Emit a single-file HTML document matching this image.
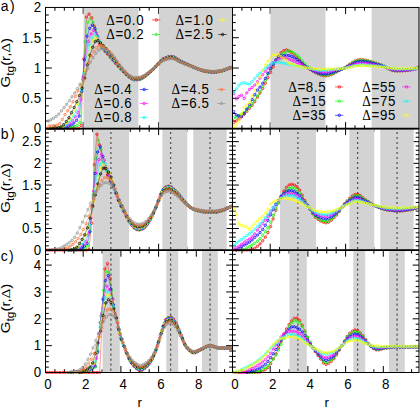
<!DOCTYPE html>
<html><head><meta charset="utf-8"><style>html,body{margin:0;padding:0;background:#fff;width:420px;height:407px;overflow:hidden}svg{display:block}</style></head>
<body><svg width="420" height="407" viewBox="0 0 420 407">
<defs>
<marker id="m000000" markerUnits="userSpaceOnUse" markerWidth="6" markerHeight="6" refX="3" refY="3" overflow="visible"><circle cx="3" cy="3" r="1.2" fill="none" stroke="#000000" stroke-width="0.75"/></marker>
<marker id="m0000ff" markerUnits="userSpaceOnUse" markerWidth="6" markerHeight="6" refX="3" refY="3" overflow="visible"><circle cx="3" cy="3" r="1.2" fill="none" stroke="#0000ff" stroke-width="0.75"/></marker>
<marker id="m00ff00" markerUnits="userSpaceOnUse" markerWidth="6" markerHeight="6" refX="3" refY="3" overflow="visible"><circle cx="3" cy="3" r="1.2" fill="none" stroke="#00ff00" stroke-width="0.75"/></marker>
<marker id="m00ffff" markerUnits="userSpaceOnUse" markerWidth="6" markerHeight="6" refX="3" refY="3" overflow="visible"><circle cx="3" cy="3" r="1.2" fill="none" stroke="#00ffff" stroke-width="0.75"/></marker>
<marker id="m909090" markerUnits="userSpaceOnUse" markerWidth="6" markerHeight="6" refX="3" refY="3" overflow="visible"><circle cx="3" cy="3" r="1.2" fill="none" stroke="#909090" stroke-width="0.75"/></marker>
<marker id="mff0000" markerUnits="userSpaceOnUse" markerWidth="6" markerHeight="6" refX="3" refY="3" overflow="visible"><circle cx="3" cy="3" r="1.2" fill="none" stroke="#ff0000" stroke-width="0.75"/></marker>
<marker id="mff00ff" markerUnits="userSpaceOnUse" markerWidth="6" markerHeight="6" refX="3" refY="3" overflow="visible"><circle cx="3" cy="3" r="1.2" fill="none" stroke="#ff00ff" stroke-width="0.75"/></marker>
<marker id="mff6e32" markerUnits="userSpaceOnUse" markerWidth="6" markerHeight="6" refX="3" refY="3" overflow="visible"><circle cx="3" cy="3" r="1.2" fill="none" stroke="#ff6e32" stroke-width="0.75"/></marker>
<marker id="mffff00" markerUnits="userSpaceOnUse" markerWidth="6" markerHeight="6" refX="3" refY="3" overflow="visible"><circle cx="3" cy="3" r="1.2" fill="none" stroke="#ffff00" stroke-width="0.75"/></marker>
<clipPath id="clipaL"><rect x="45.5" y="6.45" width="186.99" height="123.65"/></clipPath>
<clipPath id="clipaR"><rect x="232.5" y="6.45" width="186.50" height="123.65"/></clipPath>
<clipPath id="clipbL"><rect x="45.5" y="127.6" width="186.99" height="124.10"/></clipPath>
<clipPath id="clipbR"><rect x="232.5" y="127.6" width="186.50" height="124.10"/></clipPath>
<clipPath id="clipcL"><rect x="45.5" y="249.2" width="186.99" height="124.80"/></clipPath>
<clipPath id="clipcR"><rect x="232.5" y="249.2" width="186.50" height="124.80"/></clipPath>
</defs>
<rect width="420" height="407" fill="#fff"/>
<path d="M54.92,128.6v-3.3M54.92,7.45v3.3M64.35,128.6v-3.3M64.35,7.45v3.3M73.78,128.6v-3.3M73.78,7.45v3.3M83.20,128.6v-6.5M83.20,7.45v6.5M92.62,128.6v-3.3M92.62,7.45v3.3M102.05,128.6v-3.3M102.05,7.45v3.3M111.48,128.6v-3.3M111.48,7.45v3.3M120.90,128.6v-6.5M120.90,7.45v6.5M130.32,128.6v-3.3M130.32,7.45v3.3M139.75,128.6v-3.3M139.75,7.45v3.3M149.18,128.6v-3.3M149.18,7.45v3.3M158.60,128.6v-6.5M158.60,7.45v6.5M168.03,128.6v-3.3M168.03,7.45v3.3M177.45,128.6v-3.3M177.45,7.45v3.3M186.88,128.6v-3.3M186.88,7.45v3.3M196.30,128.6v-6.5M196.30,7.45v6.5M205.73,128.6v-3.3M205.73,7.45v3.3M215.15,128.6v-3.3M215.15,7.45v3.3M224.58,128.6v-3.3M224.58,7.45v3.3M45.5,121.03h3.3M232.49200000000002,121.03h-3.3M45.5,113.46h3.3M232.49200000000002,113.46h-3.3M45.5,105.88h3.3M232.49200000000002,105.88h-3.3M45.5,98.31h6.3M232.49200000000002,98.31h-6.3M45.5,90.74h3.3M232.49200000000002,90.74h-3.3M45.5,83.17h3.3M232.49200000000002,83.17h-3.3M45.5,75.60h3.3M232.49200000000002,75.60h-3.3M45.5,68.03h6.3M232.49200000000002,68.03h-6.3M45.5,60.45h3.3M232.49200000000002,60.45h-3.3M45.5,52.88h3.3M232.49200000000002,52.88h-3.3M45.5,45.31h3.3M232.49200000000002,45.31h-3.3M45.5,37.74h6.3M232.49200000000002,37.74h-6.3M45.5,30.17h3.3M232.49200000000002,30.17h-3.3M45.5,22.59h3.3M232.49200000000002,22.59h-3.3M45.5,15.02h3.3M232.49200000000002,15.02h-3.3M241.93,128.6v-3.3M241.93,7.45v3.3M251.35,128.6v-3.3M251.35,7.45v3.3M260.77,128.6v-3.3M260.77,7.45v3.3M270.20,128.6v-6.5M270.20,7.45v6.5M279.62,128.6v-3.3M279.62,7.45v3.3M289.05,128.6v-3.3M289.05,7.45v3.3M298.48,128.6v-3.3M298.48,7.45v3.3M307.90,128.6v-6.5M307.90,7.45v6.5M317.32,128.6v-3.3M317.32,7.45v3.3M326.75,128.6v-3.3M326.75,7.45v3.3M336.18,128.6v-3.3M336.18,7.45v3.3M345.60,128.6v-6.5M345.60,7.45v6.5M355.02,128.6v-3.3M355.02,7.45v3.3M364.45,128.6v-3.3M364.45,7.45v3.3M373.88,128.6v-3.3M373.88,7.45v3.3M383.30,128.6v-6.5M383.30,7.45v6.5M392.73,128.6v-3.3M392.73,7.45v3.3M402.15,128.6v-3.3M402.15,7.45v3.3M411.58,128.6v-3.3M411.58,7.45v3.3M232.5,121.03h3.3M419.0,121.03h-3.3M232.5,113.46h3.3M419.0,113.46h-3.3M232.5,105.88h3.3M419.0,105.88h-3.3M232.5,98.31h6.3M419.0,98.31h-6.3M232.5,90.74h3.3M419.0,90.74h-3.3M232.5,83.17h3.3M419.0,83.17h-3.3M232.5,75.60h3.3M419.0,75.60h-3.3M232.5,68.03h6.3M419.0,68.03h-6.3M232.5,60.45h3.3M419.0,60.45h-3.3M232.5,52.88h3.3M419.0,52.88h-3.3M232.5,45.31h3.3M419.0,45.31h-3.3M232.5,37.74h6.3M419.0,37.74h-6.3M232.5,30.17h3.3M419.0,30.17h-3.3M232.5,22.59h3.3M419.0,22.59h-3.3M232.5,15.02h3.3M419.0,15.02h-3.3M54.92,250.2v-3.3M54.92,128.6v3.3M64.35,250.2v-3.3M64.35,128.6v3.3M73.78,250.2v-3.3M73.78,128.6v3.3M83.20,250.2v-6.5M83.20,128.6v6.5M92.62,250.2v-3.3M92.62,128.6v3.3M102.05,250.2v-3.3M102.05,128.6v3.3M111.48,250.2v-3.3M111.48,128.6v3.3M120.90,250.2v-6.5M120.90,128.6v6.5M130.32,250.2v-3.3M130.32,128.6v3.3M139.75,250.2v-3.3M139.75,128.6v3.3M149.18,250.2v-3.3M149.18,128.6v3.3M158.60,250.2v-6.5M158.60,128.6v6.5M168.03,250.2v-3.3M168.03,128.6v3.3M177.45,250.2v-3.3M177.45,128.6v3.3M186.88,250.2v-3.3M186.88,128.6v3.3M196.30,250.2v-6.5M196.30,128.6v6.5M205.73,250.2v-3.3M205.73,128.6v3.3M215.15,250.2v-3.3M215.15,128.6v3.3M224.58,250.2v-3.3M224.58,128.6v3.3M45.5,245.86h3.3M232.49200000000002,245.86h-3.3M45.5,241.51h3.3M232.49200000000002,241.51h-3.3M45.5,237.17h3.3M232.49200000000002,237.17h-3.3M45.5,232.83h3.3M232.49200000000002,232.83h-3.3M45.5,228.49h6.3M232.49200000000002,228.49h-6.3M45.5,224.14h3.3M232.49200000000002,224.14h-3.3M45.5,219.80h3.3M232.49200000000002,219.80h-3.3M45.5,215.46h3.3M232.49200000000002,215.46h-3.3M45.5,211.11h3.3M232.49200000000002,211.11h-3.3M45.5,206.77h6.3M232.49200000000002,206.77h-6.3M45.5,202.43h3.3M232.49200000000002,202.43h-3.3M45.5,198.09h3.3M232.49200000000002,198.09h-3.3M45.5,193.74h3.3M232.49200000000002,193.74h-3.3M45.5,189.40h3.3M232.49200000000002,189.40h-3.3M45.5,185.06h6.3M232.49200000000002,185.06h-6.3M45.5,180.71h3.3M232.49200000000002,180.71h-3.3M45.5,176.37h3.3M232.49200000000002,176.37h-3.3M45.5,172.03h3.3M232.49200000000002,172.03h-3.3M45.5,167.69h3.3M232.49200000000002,167.69h-3.3M45.5,163.34h6.3M232.49200000000002,163.34h-6.3M45.5,159.00h3.3M232.49200000000002,159.00h-3.3M45.5,154.66h3.3M232.49200000000002,154.66h-3.3M45.5,150.31h3.3M232.49200000000002,150.31h-3.3M45.5,145.97h3.3M232.49200000000002,145.97h-3.3M45.5,141.63h6.3M232.49200000000002,141.63h-6.3M45.5,137.29h3.3M232.49200000000002,137.29h-3.3M45.5,132.94h3.3M232.49200000000002,132.94h-3.3M241.93,250.2v-3.3M241.93,128.6v3.3M251.35,250.2v-3.3M251.35,128.6v3.3M260.77,250.2v-3.3M260.77,128.6v3.3M270.20,250.2v-6.5M270.20,128.6v6.5M279.62,250.2v-3.3M279.62,128.6v3.3M289.05,250.2v-3.3M289.05,128.6v3.3M298.48,250.2v-3.3M298.48,128.6v3.3M307.90,250.2v-6.5M307.90,128.6v6.5M317.32,250.2v-3.3M317.32,128.6v3.3M326.75,250.2v-3.3M326.75,128.6v3.3M336.18,250.2v-3.3M336.18,128.6v3.3M345.60,250.2v-6.5M345.60,128.6v6.5M355.02,250.2v-3.3M355.02,128.6v3.3M364.45,250.2v-3.3M364.45,128.6v3.3M373.88,250.2v-3.3M373.88,128.6v3.3M383.30,250.2v-6.5M383.30,128.6v6.5M392.73,250.2v-3.3M392.73,128.6v3.3M402.15,250.2v-3.3M402.15,128.6v3.3M411.58,250.2v-3.3M411.58,128.6v3.3M232.5,245.86h3.3M419.0,245.86h-3.3M232.5,241.51h3.3M419.0,241.51h-3.3M232.5,237.17h3.3M419.0,237.17h-3.3M232.5,232.83h3.3M419.0,232.83h-3.3M232.5,228.49h6.3M419.0,228.49h-6.3M232.5,224.14h3.3M419.0,224.14h-3.3M232.5,219.80h3.3M419.0,219.80h-3.3M232.5,215.46h3.3M419.0,215.46h-3.3M232.5,211.11h3.3M419.0,211.11h-3.3M232.5,206.77h6.3M419.0,206.77h-6.3M232.5,202.43h3.3M419.0,202.43h-3.3M232.5,198.09h3.3M419.0,198.09h-3.3M232.5,193.74h3.3M419.0,193.74h-3.3M232.5,189.40h3.3M419.0,189.40h-3.3M232.5,185.06h6.3M419.0,185.06h-6.3M232.5,180.71h3.3M419.0,180.71h-3.3M232.5,176.37h3.3M419.0,176.37h-3.3M232.5,172.03h3.3M419.0,172.03h-3.3M232.5,167.69h3.3M419.0,167.69h-3.3M232.5,163.34h6.3M419.0,163.34h-6.3M232.5,159.00h3.3M419.0,159.00h-3.3M232.5,154.66h3.3M419.0,154.66h-3.3M232.5,150.31h3.3M419.0,150.31h-3.3M232.5,145.97h3.3M419.0,145.97h-3.3M232.5,141.63h6.3M419.0,141.63h-6.3M232.5,137.29h3.3M419.0,137.29h-3.3M232.5,132.94h3.3M419.0,132.94h-3.3M54.92,372.5v-3.3M54.92,250.2v3.3M64.35,372.5v-3.3M64.35,250.2v3.3M73.78,372.5v-3.3M73.78,250.2v3.3M83.20,372.5v-6.5M83.20,250.2v6.5M92.62,372.5v-3.3M92.62,250.2v3.3M102.05,372.5v-3.3M102.05,250.2v3.3M111.48,372.5v-3.3M111.48,250.2v3.3M120.90,372.5v-6.5M120.90,250.2v6.5M130.32,372.5v-3.3M130.32,250.2v3.3M139.75,372.5v-3.3M139.75,250.2v3.3M149.18,372.5v-3.3M149.18,250.2v3.3M158.60,372.5v-6.5M158.60,250.2v6.5M168.03,372.5v-3.3M168.03,250.2v3.3M177.45,372.5v-3.3M177.45,250.2v3.3M186.88,372.5v-3.3M186.88,250.2v3.3M196.30,372.5v-6.5M196.30,250.2v6.5M205.73,372.5v-3.3M205.73,250.2v3.3M215.15,372.5v-3.3M215.15,250.2v3.3M224.58,372.5v-3.3M224.58,250.2v3.3M45.5,367.13h3.3M232.49200000000002,367.13h-3.3M45.5,361.76h3.3M232.49200000000002,361.76h-3.3M45.5,356.39h3.3M232.49200000000002,356.39h-3.3M45.5,351.02h3.3M232.49200000000002,351.02h-3.3M45.5,345.65h6.3M232.49200000000002,345.65h-6.3M45.5,340.28h3.3M232.49200000000002,340.28h-3.3M45.5,334.91h3.3M232.49200000000002,334.91h-3.3M45.5,329.54h3.3M232.49200000000002,329.54h-3.3M45.5,324.17h3.3M232.49200000000002,324.17h-3.3M45.5,318.80h6.3M232.49200000000002,318.80h-6.3M45.5,313.43h3.3M232.49200000000002,313.43h-3.3M45.5,308.06h3.3M232.49200000000002,308.06h-3.3M45.5,302.69h3.3M232.49200000000002,302.69h-3.3M45.5,297.32h3.3M232.49200000000002,297.32h-3.3M45.5,291.95h6.3M232.49200000000002,291.95h-6.3M45.5,286.58h3.3M232.49200000000002,286.58h-3.3M45.5,281.21h3.3M232.49200000000002,281.21h-3.3M45.5,275.84h3.3M232.49200000000002,275.84h-3.3M45.5,270.47h3.3M232.49200000000002,270.47h-3.3M45.5,265.10h6.3M232.49200000000002,265.10h-6.3M45.5,259.73h3.3M232.49200000000002,259.73h-3.3M45.5,254.36h3.3M232.49200000000002,254.36h-3.3M241.93,372.5v-3.3M241.93,250.2v3.3M251.35,372.5v-3.3M251.35,250.2v3.3M260.77,372.5v-3.3M260.77,250.2v3.3M270.20,372.5v-6.5M270.20,250.2v6.5M279.62,372.5v-3.3M279.62,250.2v3.3M289.05,372.5v-3.3M289.05,250.2v3.3M298.48,372.5v-3.3M298.48,250.2v3.3M307.90,372.5v-6.5M307.90,250.2v6.5M317.32,372.5v-3.3M317.32,250.2v3.3M326.75,372.5v-3.3M326.75,250.2v3.3M336.18,372.5v-3.3M336.18,250.2v3.3M345.60,372.5v-6.5M345.60,250.2v6.5M355.02,372.5v-3.3M355.02,250.2v3.3M364.45,372.5v-3.3M364.45,250.2v3.3M373.88,372.5v-3.3M373.88,250.2v3.3M383.30,372.5v-6.5M383.30,250.2v6.5M392.73,372.5v-3.3M392.73,250.2v3.3M402.15,372.5v-3.3M402.15,250.2v3.3M411.58,372.5v-3.3M411.58,250.2v3.3M232.5,367.13h3.3M419.0,367.13h-3.3M232.5,361.76h3.3M419.0,361.76h-3.3M232.5,356.39h3.3M419.0,356.39h-3.3M232.5,351.02h3.3M419.0,351.02h-3.3M232.5,345.65h6.3M419.0,345.65h-6.3M232.5,340.28h3.3M419.0,340.28h-3.3M232.5,334.91h3.3M419.0,334.91h-3.3M232.5,329.54h3.3M419.0,329.54h-3.3M232.5,324.17h3.3M419.0,324.17h-3.3M232.5,318.80h6.3M419.0,318.80h-6.3M232.5,313.43h3.3M419.0,313.43h-3.3M232.5,308.06h3.3M419.0,308.06h-3.3M232.5,302.69h3.3M419.0,302.69h-3.3M232.5,297.32h3.3M419.0,297.32h-3.3M232.5,291.95h6.3M419.0,291.95h-6.3M232.5,286.58h3.3M419.0,286.58h-3.3M232.5,281.21h3.3M419.0,281.21h-3.3M232.5,275.84h3.3M419.0,275.84h-3.3M232.5,270.47h3.3M419.0,270.47h-3.3M232.5,265.10h6.3M419.0,265.10h-6.3M232.5,259.73h3.3M419.0,259.73h-3.3M232.5,254.36h3.3M419.0,254.36h-3.3" stroke="#000" stroke-width="1" fill="none"/>
<rect x="83.58" y="7.45" width="54.85" height="121.15" fill="#d3d3d3"/>
<rect x="158.79" y="7.45" width="73.70" height="121.15" fill="#d3d3d3"/>
<rect x="270.39" y="7.45" width="55.04" height="121.15" fill="#d3d3d3"/>
<rect x="371.61" y="7.45" width="47.88" height="121.15" fill="#d3d3d3"/>
<rect x="93.00" y="128.6" width="36.00" height="121.60" fill="#d3d3d3"/>
<rect x="162.37" y="128.6" width="24.88" height="121.60" fill="#d3d3d3"/>
<rect x="193.28" y="128.6" width="33.36" height="121.60" fill="#d3d3d3"/>
<rect x="280.00" y="128.6" width="36.00" height="121.60" fill="#d3d3d3"/>
<rect x="349.37" y="128.6" width="24.88" height="121.60" fill="#d3d3d3"/>
<rect x="380.28" y="128.6" width="33.36" height="121.60" fill="#d3d3d3"/>
<rect x="102.62" y="250.2" width="17.15" height="122.30" fill="#d3d3d3"/>
<rect x="166.33" y="250.2" width="11.88" height="122.30" fill="#d3d3d3"/>
<rect x="201.96" y="250.2" width="15.83" height="122.30" fill="#d3d3d3"/>
<rect x="289.43" y="250.2" width="17.34" height="122.30" fill="#d3d3d3"/>
<rect x="353.33" y="250.2" width="11.88" height="122.30" fill="#d3d3d3"/>
<rect x="388.96" y="250.2" width="15.83" height="122.30" fill="#d3d3d3"/>
<line x1="110.91" y1="132.0" x2="110.91" y2="249.7" stroke="#3a3a3a" stroke-width="1.05" stroke-dasharray="2.1 2.9"/>
<line x1="170.66" y1="132.0" x2="170.66" y2="249.7" stroke="#3a3a3a" stroke-width="1.05" stroke-dasharray="2.1 2.9"/>
<line x1="210.06" y1="132.0" x2="210.06" y2="249.7" stroke="#3a3a3a" stroke-width="1.05" stroke-dasharray="2.1 2.9"/>
<line x1="297.91" y1="132.0" x2="297.91" y2="249.7" stroke="#3a3a3a" stroke-width="1.05" stroke-dasharray="2.1 2.9"/>
<line x1="357.66" y1="132.0" x2="357.66" y2="249.7" stroke="#3a3a3a" stroke-width="1.05" stroke-dasharray="2.1 2.9"/>
<line x1="397.06" y1="132.0" x2="397.06" y2="249.7" stroke="#3a3a3a" stroke-width="1.05" stroke-dasharray="2.1 2.9"/>
<line x1="110.91" y1="253.6" x2="110.91" y2="372.0" stroke="#3a3a3a" stroke-width="1.05" stroke-dasharray="2.1 2.9"/>
<line x1="170.66" y1="253.6" x2="170.66" y2="372.0" stroke="#3a3a3a" stroke-width="1.05" stroke-dasharray="2.1 2.9"/>
<line x1="210.06" y1="253.6" x2="210.06" y2="372.0" stroke="#3a3a3a" stroke-width="1.05" stroke-dasharray="2.1 2.9"/>
<line x1="297.91" y1="253.6" x2="297.91" y2="372.0" stroke="#3a3a3a" stroke-width="1.05" stroke-dasharray="2.1 2.9"/>
<line x1="357.66" y1="253.6" x2="357.66" y2="372.0" stroke="#3a3a3a" stroke-width="1.05" stroke-dasharray="2.1 2.9"/>
<line x1="397.06" y1="253.6" x2="397.06" y2="372.0" stroke="#3a3a3a" stroke-width="1.05" stroke-dasharray="2.1 2.9"/>
<g clip-path="url(#clipaL)" fill="none" stroke-width="0.4">
<path d="M46.8,128.6 49.5,128.6 52.1,128.6 54.7,128.6 57.4,128.6 60.0,128.6 62.7,128.6 65.3,128.6 67.9,128.6 70.6,128.6 73.2,128.6 75.8,128.6 78.5,128.6 81.1,125.6 83.8,58.9 86.4,17.1 89.0,14.1 91.7,17.7 94.3,26.2 97.0,36.1 99.6,43.9 102.2,48.1 104.9,51.4 107.5,54.2 110.2,57.2 112.8,60.3 115.4,63.3 118.1,66.2 120.7,69.0 123.4,71.6 126.0,74.2 128.6,76.6 131.3,78.5 133.9,79.8 136.5,79.8 139.2,79.6 141.8,78.6 144.5,76.9 147.1,74.8 149.7,72.4 152.4,70.0 155.0,67.3 157.7,64.3 160.3,61.4 162.9,58.9 165.6,57.7 168.2,56.8 170.9,56.4 173.5,56.8 176.1,58.2 178.8,59.9 181.4,61.5 184.0,62.7 186.7,63.9 189.3,65.1 192.0,66.3 194.6,67.5 197.2,68.6 199.9,69.6 202.5,70.6 205.2,71.3 207.8,71.7 210.4,72.1 213.1,72.2 215.7,72.1 218.4,71.7 221.0,71.1 223.6,70.4 226.3,69.3 228.9,68.3 231.5,67.5 234.2,67.0" stroke="#ff0000" marker-start="url(#mff0000)" marker-mid="url(#mff0000)" marker-end="url(#mff0000)"/>
<path d="M64.0,128.4 66.6,128.1 69.3,127.7 71.9,127.2 74.5,126.6 77.2,125.5 79.8,122.5 82.4,87.2 85.1,41.7 87.7,22.3 90.4,18.8 93.0,22.2 95.6,30.3 98.3,39.4 100.9,45.6 103.6,49.2 106.2,52.2 108.8,55.0 111.5,58.2 114.1,61.3 116.8,64.3 119.4,67.3 122.0,70.1 124.7,72.7 127.3,75.3 129.9,77.4 132.6,79.2 135.2,79.6 137.9,79.5 140.5,79.0 143.1,77.6 145.8,75.8 148.4,73.5 151.1,71.2 153.7,68.7 156.3,65.8 159.0,63.0 161.6,60.1 164.3,58.5 166.9,57.4 169.5,56.7 172.2,56.6 174.8,57.6 177.5,59.2 180.1,60.9 182.7,62.2 185.4,63.4 188.0,64.6 190.6,65.8 193.3,67.0 195.9,68.1 198.6,69.1 201.2,70.1 203.8,70.9 206.5,71.4 209.1,71.8 211.8,72.1 214.4,72.1 217.0,71.8 219.7,71.4 222.3,70.8 225.0,69.8 227.6,68.7 230.2,67.9 232.9,67.3" stroke="#00ff00" marker-start="url(#m00ff00)" marker-mid="url(#m00ff00)" marker-end="url(#m00ff00)"/>
<path d="M55.4,128.4 58.0,128.3 60.7,128.2 63.3,128.0 66.0,127.3 68.6,126.3 71.2,125.0 73.9,123.1 76.5,120.4 79.1,116.0 81.8,91.3 84.4,59.9 87.1,36.2 89.7,28.3 92.3,25.1 95.0,28.6 97.6,36.2 100.3,43.5 102.9,47.5 105.5,50.6 108.2,53.5 110.8,56.6 113.5,59.8 116.1,63.0 118.7,66.1 121.4,69.0 124.0,71.8 126.6,74.5 129.3,76.8 131.9,78.6 134.6,79.4 137.2,79.3 139.8,79.0 142.5,77.8 145.1,76.2 147.8,74.0 150.4,71.7 153.0,69.3 155.7,66.6 158.3,63.7 161.0,60.9 163.6,58.9 166.2,57.8 168.9,57.1 171.5,56.8 174.2,57.4 176.8,58.9 179.4,60.6 182.1,62.0 184.7,63.2 187.3,64.4 190.0,65.5 192.6,66.7 195.3,67.8 197.9,68.9 200.5,69.8 203.2,70.7 205.8,71.3 208.5,71.7 211.1,72.0 213.7,72.1 216.4,71.9 219.0,71.4 221.7,70.9 224.3,70.1 226.9,69.0 229.6,68.1 232.2,67.4" stroke="#0000ff" marker-start="url(#m0000ff)" marker-mid="url(#m0000ff)" marker-end="url(#m0000ff)"/>
<path d="M54.1,128.4 56.7,128.2 59.4,128.0 62.0,127.8 64.6,126.8 67.3,125.2 69.9,123.3 72.5,120.5 75.2,116.9 77.8,112.4 80.5,99.4 83.1,76.9 85.7,56.0 88.4,41.5 91.0,34.0 93.7,30.4 96.3,33.0 98.9,39.5 101.6,45.0 104.2,48.4 106.9,51.4 109.5,54.3 112.1,57.6 114.8,60.9 117.4,64.1 120.1,67.2 122.7,70.2 125.3,73.0 128.0,75.6 130.6,77.5 133.2,79.0 135.9,79.2 138.5,79.0 141.2,78.3 143.8,76.9 146.4,75.0 149.1,72.7 151.7,70.5 154.4,68.0 157.0,65.2 159.6,62.5 162.3,59.9 164.9,58.5 167.6,57.6 170.2,57.0 172.8,57.2 175.5,58.3 178.1,59.9 180.7,61.5 183.4,62.7 186.0,63.9 188.7,65.0 191.3,66.1 193.9,67.3 196.6,68.4 199.2,69.3 201.9,70.2 204.5,71.0 207.1,71.4 209.8,71.8 212.4,72.0 215.1,71.9 217.7,71.6 220.3,71.1 223.0,70.5 225.6,69.5 228.3,68.5 230.9,67.7 233.5,67.2" stroke="#ff00ff" marker-start="url(#mff00ff)" marker-mid="url(#mff00ff)" marker-end="url(#mff00ff)"/>
<path d="M52.4,128.4 55.1,128.2 57.7,128.0 60.3,127.7 63.0,127.0 65.6,125.1 68.2,122.8 70.9,119.8 73.5,115.7 76.2,111.2 78.8,104.3 81.4,89.8 84.1,73.7 86.7,56.2 89.4,45.4 92.0,37.9 94.6,34.1 97.3,36.2 99.9,41.6 102.6,45.8 105.2,49.0 107.8,51.9 110.5,55.1 113.1,58.4 115.8,61.7 118.4,65.0 121.0,68.1 123.7,71.1 126.3,73.9 128.9,76.2 131.6,78.0 134.2,79.0 136.9,78.9 139.5,78.7 142.1,77.7 144.8,76.1 147.4,74.0 150.1,71.8 152.7,69.6 155.3,67.0 158.0,64.2 160.6,61.5 163.3,59.4 165.9,58.3 168.5,57.5 171.2,57.2 173.8,57.7 176.4,59.0 179.1,60.7 181.7,62.1 184.4,63.2 187.0,64.3 189.6,65.4 192.3,66.6 194.9,67.7 197.6,68.7 200.2,69.6 202.8,70.5 205.5,71.1 208.1,71.5 210.8,71.8 213.4,71.9 216.0,71.8 218.7,71.4 221.3,70.8 223.9,70.1 226.6,69.1 229.2,68.1 231.9,67.5" stroke="#00ffff" marker-start="url(#m00ffff)" marker-mid="url(#m00ffff)" marker-end="url(#m00ffff)"/>
<path d="M51.1,128.4 53.7,128.3 56.4,128.0 59.0,127.7 61.7,127.1 64.3,125.2 66.9,122.5 69.6,119.2 72.2,114.7 74.8,109.9 77.5,104.2 80.1,95.3 82.8,83.9 85.4,69.9 88.0,55.8 90.7,47.2 93.3,40.2 96.0,37.2 98.6,39.5 101.2,43.7 103.9,46.9 106.5,50.0 109.2,53.1 111.8,56.3 114.4,59.7 117.1,63.1 119.7,66.4 122.3,69.5 125.0,72.4 127.6,75.0 130.3,77.0 132.9,78.5 135.5,78.8 138.2,78.6 140.8,78.1 143.5,76.7 146.1,75.0 148.7,72.8 151.4,70.7 154.0,68.3 156.7,65.7 159.3,63.0 161.9,60.4 164.6,59.0 167.2,58.1 169.8,57.5 172.5,57.5 175.1,58.5 177.8,60.0 180.4,61.6 183.0,62.8 185.7,63.9 188.3,65.0 191.0,66.1 193.6,67.2 196.2,68.2 198.9,69.1 201.5,70.1 204.2,70.8 206.8,71.2 209.4,71.6 212.1,71.8 214.7,71.8 217.4,71.5 220.0,71.1 222.6,70.5 225.3,69.6 227.9,68.6 230.5,67.8 233.2,67.3" stroke="#ffff00" marker-start="url(#mffff00)" marker-mid="url(#mffff00)" marker-end="url(#mffff00)"/>
<path d="M50.4,128.5 53.1,128.3 55.7,128.0 58.4,127.6 61.0,126.9 63.6,124.7 66.3,121.5 68.9,117.8 71.5,112.6 74.2,107.4 76.8,101.7 79.5,95.5 82.1,88.5 84.7,78.2 87.4,64.8 90.0,55.2 92.7,47.2 95.3,41.5 97.9,40.6 100.6,42.9 103.2,45.6 105.9,48.6 108.5,51.8 111.1,55.1 113.8,58.5 116.4,62.0 119.0,65.3 121.7,68.6 124.3,71.6 127.0,74.3 129.6,76.3 132.2,78.0 134.9,78.6 137.5,78.5 140.2,78.1 142.8,76.9 145.4,75.3 148.1,73.3 150.7,71.2 153.4,68.9 156.0,66.4 158.6,63.8 161.3,61.2 163.9,59.5 166.6,58.5 169.2,57.8 171.8,57.6 174.5,58.4 177.1,59.8 179.7,61.4 182.4,62.6 185.0,63.7 187.7,64.8 190.3,65.8 192.9,66.9 195.6,68.0 198.2,68.9 200.9,69.8 203.5,70.6 206.1,71.1 208.8,71.4 211.4,71.7 214.1,71.8 216.7,71.5 219.3,71.1 222.0,70.6 224.6,69.8 227.2,68.8 229.9,68.0 232.5,67.4" stroke="#000000" marker-start="url(#m000000)" marker-mid="url(#m000000)" marker-end="url(#m000000)"/>
<path d="M49.1,126.1 51.8,125.9 54.4,125.5 57.0,125.1 59.7,123.6 62.3,119.4 64.9,114.6 67.6,110.7 70.2,106.8 72.9,101.8 75.5,96.3 78.1,91.1 80.8,85.8 83.4,79.7 86.1,71.2 88.7,62.2 91.3,56.0 94.0,51.3 96.6,47.6 99.3,45.7 101.9,46.1 104.5,47.4 107.2,49.4 109.8,51.8 112.5,54.9 115.1,58.7 117.7,62.8 120.4,66.4 123.0,69.5 125.6,72.4 128.3,75.0 130.9,76.8 133.6,78.0 136.2,78.0 138.8,77.8 141.5,77.1 144.1,75.8 146.8,74.0 149.4,72.0 152.0,70.0 154.7,67.7 157.3,65.2 160.0,62.7 162.6,60.5 165.2,59.4 167.9,58.6 170.5,58.2 173.1,58.4 175.8,59.5 178.4,61.0 181.1,62.3 183.7,63.4 186.3,64.4 189.0,65.4 191.6,66.4 194.3,67.5 196.9,68.4 199.5,69.3 202.2,70.1 204.8,70.7 207.5,71.1 210.1,71.4 212.7,71.6 215.4,71.5 218.0,71.2 220.7,70.7 223.3,70.1 225.9,69.2 228.6,68.3 231.2,67.7 233.8,67.2" stroke="#ff6e32" marker-start="url(#mff6e32)" marker-mid="url(#mff6e32)" marker-end="url(#mff6e32)"/>
<path d="M48.3,120.9 50.9,119.8 53.5,118.2 56.2,116.5 58.8,114.1 61.5,110.8 64.1,107.6 66.7,104.2 69.4,100.6 72.0,96.8 74.7,92.9 77.3,88.7 79.9,84.2 82.6,79.4 85.2,74.3 87.9,68.4 90.5,62.3 93.1,57.6 95.8,53.5 98.4,50.2 101.1,48.7 103.7,49.1 106.3,50.1 109.0,51.7 111.6,53.9 114.2,57.0 116.9,60.9 119.5,64.7 122.2,68.1 124.8,71.2 127.4,73.9 130.1,75.8 132.7,77.2 135.4,77.5 138.0,77.4 140.6,77.0 143.3,75.8 145.9,74.3 148.6,72.4 151.2,70.5 153.8,68.5 156.5,66.1 159.1,63.8 161.7,61.5 164.4,60.2 167.0,59.3 169.7,58.8 172.3,58.7 174.9,59.5 177.6,60.9 180.2,62.3 182.9,63.3 185.5,64.3 188.1,65.3 190.8,66.2 193.4,67.2 196.1,68.1 198.7,69.0 201.3,69.8 204.0,70.4 206.6,70.8 209.2,71.2 211.9,71.4 214.5,71.4 217.2,71.1 219.8,70.7 222.4,70.2 225.1,69.5 227.7,68.6 230.4,67.9 233.0,67.4" stroke="#909090" marker-start="url(#m909090)" marker-mid="url(#m909090)" marker-end="url(#m909090)"/>
</g>
<g clip-path="url(#clipbL)" fill="none" stroke-width="0.4">
<path d="M46.8,250.2 49.5,250.2 52.1,250.2 54.7,250.2 57.4,250.2 60.0,250.2 62.7,250.2 65.3,250.2 67.9,250.2 70.6,250.2 73.2,250.2 75.8,250.2 78.5,250.2 81.1,250.2 83.8,250.2 86.4,250.2 89.0,249.3 91.7,223.3 94.3,164.6 97.0,134.2 99.6,144.9 102.2,159.7 104.9,168.1 107.5,175.0 110.2,180.7 112.8,186.0 115.4,192.5 118.1,199.6 120.7,205.8 123.4,210.4 126.0,215.8 128.6,220.8 131.3,224.8 133.9,227.8 136.5,229.5 139.2,230.0 141.8,229.3 144.5,227.8 147.1,224.9 149.7,220.8 152.4,215.8 155.0,209.6 157.7,202.5 160.3,195.0 162.9,189.6 165.6,187.0 168.2,186.1 170.9,186.8 173.5,189.1 176.1,191.3 178.8,194.0 181.4,197.5 184.0,201.0 186.7,204.0 189.3,206.5 192.0,208.5 194.6,209.7 197.2,210.6 199.9,211.2 202.5,211.7 205.2,212.1 207.8,212.3 210.4,212.3 213.1,212.3 215.7,212.2 218.4,211.8 221.0,211.0 223.6,210.1 226.3,208.9 228.9,207.6 231.5,206.4 234.2,205.3" stroke="#ff0000" marker-start="url(#mff0000)" marker-mid="url(#mff0000)" marker-end="url(#mff0000)"/>
<path d="M74.5,250.0 77.2,249.9 79.8,249.7 82.4,249.0 85.1,247.9 87.7,245.9 90.4,231.4 93.0,194.7 95.6,158.3 98.3,140.3 100.9,149.1 103.6,162.1 106.2,170.3 108.8,177.3 111.5,183.1 114.1,188.8 116.8,195.7 119.4,202.6 122.0,207.9 124.7,212.9 127.3,218.2 129.9,222.7 132.6,226.2 135.2,228.3 137.9,229.6 140.5,229.4 143.1,228.4 145.8,226.1 148.4,222.7 151.1,218.2 153.7,212.7 156.3,206.2 159.0,198.9 161.6,192.0 164.3,188.2 166.9,186.8 169.5,186.5 172.2,188.2 174.8,190.4 177.5,192.8 180.1,195.9 182.7,199.5 185.4,202.6 188.0,205.3 190.6,207.5 193.3,209.1 195.9,210.1 198.6,210.9 201.2,211.4 203.8,211.9 206.5,212.1 209.1,212.2 211.8,212.2 214.4,212.2 217.0,212.0 219.7,211.3 222.3,210.5 225.0,209.5 227.6,208.2 230.2,207.0 232.9,205.9" stroke="#00ff00" marker-start="url(#m00ff00)" marker-mid="url(#m00ff00)" marker-end="url(#m00ff00)"/>
<path d="M71.2,250.1 73.9,249.9 76.5,249.7 79.1,249.3 81.8,248.0 84.4,246.1 87.1,243.4 89.7,231.8 92.3,205.5 95.0,173.5 97.6,152.1 100.3,146.7 102.9,156.6 105.5,166.7 108.2,174.4 110.8,181.2 113.5,187.1 116.1,193.6 118.7,200.6 121.4,206.5 124.0,211.4 126.6,216.8 129.3,221.4 131.9,225.0 134.6,227.5 137.2,229.0 139.8,229.1 142.5,228.3 145.1,226.5 147.8,223.4 150.4,219.2 153.0,214.0 155.7,207.9 158.3,200.8 161.0,193.7 163.6,189.2 166.2,187.4 168.9,186.8 171.5,188.0 174.2,190.2 176.8,192.5 179.4,195.2 182.1,198.7 184.7,201.9 187.3,204.7 190.0,207.0 192.6,208.7 195.3,209.8 197.9,210.6 200.5,211.2 203.2,211.7 205.8,212.0 208.5,212.1 211.1,212.1 213.7,212.1 216.4,212.0 219.0,211.4 221.7,210.6 224.3,209.7 226.9,208.5 229.6,207.3 232.2,206.2" stroke="#0000ff" marker-start="url(#m0000ff)" marker-mid="url(#m0000ff)" marker-end="url(#m0000ff)"/>
<path d="M69.9,250.1 72.5,249.9 75.2,249.6 77.8,249.0 80.5,247.2 83.1,244.6 85.7,241.5 88.4,234.2 91.0,217.9 93.7,191.2 96.3,173.4 98.9,159.7 101.6,154.7 104.2,160.1 106.9,168.5 109.5,175.9 112.1,183.1 114.8,189.8 117.4,196.7 120.1,203.3 122.7,208.6 125.3,213.9 128.0,219.0 130.6,223.0 133.2,226.2 135.9,228.0 138.5,228.8 141.2,228.4 143.8,227.3 146.4,224.7 149.1,221.2 151.7,216.6 154.4,211.0 157.0,204.5 159.6,197.5 162.3,191.5 164.9,188.4 167.6,187.3 170.2,187.4 172.8,189.4 175.5,191.6 178.1,194.0 180.7,197.1 183.4,200.5 186.0,203.4 188.7,205.9 191.3,208.0 193.9,209.3 196.6,210.2 199.2,210.9 201.9,211.4 204.5,211.8 207.1,212.0 209.8,212.0 212.4,212.0 215.1,212.0 217.7,211.7 220.3,211.0 223.0,210.2 225.6,209.1 228.3,207.8 230.9,206.7 233.5,205.6" stroke="#ff00ff" marker-start="url(#mff00ff)" marker-mid="url(#mff00ff)" marker-end="url(#mff00ff)"/>
<path d="M68.2,250.2 70.9,250.0 73.5,249.7 76.2,249.1 78.8,247.2 81.4,244.1 84.1,240.8 86.7,235.9 89.4,225.1 92.0,208.6 94.6,189.5 97.3,175.7 99.9,164.5 102.6,160.0 105.2,163.6 107.8,170.3 110.5,177.3 113.1,184.8 115.8,191.9 118.4,198.9 121.0,205.2 123.7,210.3 126.3,215.8 128.9,220.3 131.6,224.0 134.2,226.6 136.9,228.1 139.5,228.3 142.1,227.7 144.8,226.1 147.4,223.2 150.1,219.3 152.7,214.5 155.3,208.7 158.0,202.0 160.6,195.0 163.3,190.3 165.9,188.2 168.5,187.5 171.2,188.4 173.8,190.6 176.4,192.7 179.1,195.2 181.7,198.6 184.4,201.7 187.0,204.5 189.6,206.7 192.3,208.5 194.9,209.6 197.6,210.4 200.2,211.0 202.8,211.4 205.5,211.8 208.1,211.9 210.8,211.9 213.4,211.9 216.0,211.8 218.7,211.4 221.3,210.6 223.9,209.8 226.6,208.6 229.2,207.4 231.9,206.3" stroke="#00ffff" marker-start="url(#m00ffff)" marker-mid="url(#m00ffff)" marker-end="url(#m00ffff)"/>
<path d="M69.6,250.1 72.2,249.8 74.8,249.1 77.5,247.3 80.1,243.6 82.8,239.8 85.4,235.3 88.0,227.5 90.7,216.3 93.3,201.3 96.0,188.9 98.6,177.1 101.2,168.1 103.9,165.1 106.5,167.9 109.2,173.0 111.8,179.8 114.4,187.5 117.1,195.1 119.7,202.0 122.3,207.6 125.0,212.9 127.6,217.9 130.3,222.0 132.9,225.1 135.5,227.0 138.2,228.0 140.8,227.7 143.5,226.7 146.1,224.4 148.7,221.2 151.4,216.9 154.0,211.6 156.7,205.5 159.3,198.7 161.9,192.6 164.6,189.3 167.2,188.1 169.8,188.0 172.5,189.8 175.1,191.8 177.8,194.1 180.4,197.0 183.0,200.3 185.7,203.2 188.3,205.7 191.0,207.7 193.6,209.0 196.2,210.0 198.9,210.6 201.5,211.1 204.2,211.5 206.8,211.8 209.4,211.8 212.1,211.8 214.7,211.8 217.4,211.6 220.0,210.9 222.6,210.2 225.3,209.1 227.9,207.9 230.5,206.9 233.2,205.8" stroke="#ffff00" marker-start="url(#mffff00)" marker-mid="url(#mffff00)" marker-end="url(#mffff00)"/>
<path d="M68.9,250.2 71.5,249.8 74.2,249.1 76.8,247.3 79.5,243.4 82.1,239.3 84.7,234.8 87.4,227.9 90.0,218.2 92.7,206.3 95.3,195.0 97.9,183.9 100.6,173.9 103.2,168.2 105.9,168.5 108.5,172.1 111.1,177.2 113.8,185.0 116.4,193.1 119.0,200.2 121.7,206.2 124.3,211.4 127.0,216.3 129.6,220.4 132.2,223.6 134.9,225.7 137.5,226.9 140.2,226.8 142.8,226.1 145.4,224.2 148.1,221.4 150.7,217.5 153.4,212.7 156.0,207.1 158.6,200.7 161.3,194.3 163.9,190.6 166.6,189.2 169.2,188.8 171.8,190.1 174.5,192.1 177.1,194.1 179.7,196.7 182.4,199.9 185.0,202.7 187.7,205.2 190.3,207.2 192.9,208.7 195.6,209.6 198.2,210.3 200.9,210.8 203.5,211.2 206.1,211.5 208.8,211.5 211.4,211.5 214.1,211.5 216.7,211.4 219.3,210.9 222.0,210.2 224.6,209.3 227.2,208.2 229.9,207.1 232.5,206.1" stroke="#000000" marker-start="url(#m000000)" marker-mid="url(#m000000)" marker-end="url(#m000000)"/>
<path d="M51.8,250.1 54.4,249.9 57.0,249.7 59.7,249.4 62.3,249.1 64.9,248.7 67.6,247.7 70.2,246.1 72.9,244.3 75.5,241.8 78.1,238.6 80.8,234.6 83.4,229.5 86.1,223.7 88.7,216.1 91.3,207.2 94.0,199.0 96.6,191.0 99.3,185.4 101.9,180.6 104.5,177.6 107.2,177.5 109.8,178.9 112.5,182.4 115.1,188.5 117.7,195.8 120.4,202.5 123.0,208.0 125.6,213.2 128.3,217.7 130.9,221.0 133.6,223.6 136.2,225.0 138.8,225.6 141.5,225.1 144.1,224.1 146.8,221.7 149.4,218.6 152.0,214.6 154.7,209.7 157.3,204.1 160.0,198.1 162.6,193.3 165.2,190.9 167.9,190.1 170.5,190.4 173.1,192.2 175.8,194.0 178.4,196.1 181.1,198.9 183.7,201.7 186.3,204.2 189.0,206.3 191.6,208.0 194.3,209.0 196.9,209.8 199.5,210.3 202.2,210.7 204.8,211.1 207.5,211.2 210.1,211.2 212.7,211.2 215.4,211.2 218.0,210.9 220.7,210.3 223.3,209.6 225.9,208.6 228.6,207.6 231.2,206.6 233.8,205.7" stroke="#ff6e32" marker-start="url(#mff6e32)" marker-mid="url(#mff6e32)" marker-end="url(#mff6e32)"/>
<path d="M48.3,250.1 50.9,249.9 53.5,249.6 56.2,249.2 58.8,248.7 61.5,247.6 64.1,246.0 66.7,244.4 69.4,242.5 72.0,240.3 74.7,237.3 77.3,232.9 79.9,227.6 82.6,222.0 85.2,216.1 87.9,209.6 90.5,203.4 93.1,197.7 95.8,192.3 98.4,188.4 101.1,185.4 103.7,183.1 106.3,182.5 109.0,183.3 111.6,185.1 114.2,188.5 116.9,193.6 119.5,199.7 122.2,205.4 124.8,210.8 127.4,215.7 130.1,219.0 132.7,221.6 135.4,223.3 138.0,224.2 140.6,223.9 143.3,223.2 145.9,221.4 148.6,218.8 151.2,215.3 153.8,211.0 156.5,206.1 159.1,200.5 161.7,195.4 164.4,192.5 167.0,191.5 169.7,191.4 172.3,192.7 174.9,194.4 177.6,196.3 180.2,198.6 182.9,201.3 185.5,203.7 188.1,205.7 190.8,207.4 193.4,208.6 196.1,209.3 198.7,209.9 201.3,210.3 204.0,210.7 206.6,210.9 209.2,210.9 211.9,210.9 214.5,210.9 217.2,210.7 219.8,210.2 222.4,209.6 225.1,208.8 227.7,207.8 230.4,206.9 233.0,206.0" stroke="#909090" marker-start="url(#m909090)" marker-mid="url(#m909090)" marker-end="url(#m909090)"/>
</g>
<g clip-path="url(#clipcL)" fill="none" stroke-width="0.4">
<path d="M46.8,372.5 49.5,372.5 52.1,372.5 54.7,372.5 57.4,372.5 60.0,372.5 62.7,372.5 65.3,372.5 67.9,372.5 70.6,372.5 73.2,372.5 75.8,372.5 78.5,372.5 81.1,372.5 83.8,372.5 86.4,372.5 89.0,372.5 91.7,372.5 94.3,372.5 97.0,372.5 99.6,372.5 102.2,321.5 104.9,268.9 107.5,263.5 110.2,278.5 112.8,298.8 115.4,314.5 118.1,327.3 120.7,338.2 123.4,345.1 126.0,351.9 128.6,358.1 131.3,362.9 133.9,366.2 136.5,368.6 139.2,370.6 141.8,370.4 144.5,368.6 147.1,366.4 149.7,363.3 152.4,358.9 155.0,352.7 157.7,344.8 160.3,335.5 162.9,326.6 165.6,319.8 168.2,317.7 170.9,317.1 173.5,319.2 176.1,323.1 178.8,329.0 181.4,335.4 184.0,342.4 186.7,347.4 189.3,350.3 192.0,352.4 194.6,352.8 197.2,351.8 199.9,350.2 202.5,348.9 205.2,347.4 207.8,346.1 210.4,345.7 213.1,346.3 215.7,347.3 218.4,348.0 221.0,348.1 223.6,348.1 226.3,348.1 228.9,348.1 231.5,348.1 234.2,348.1" stroke="#ff0000" marker-start="url(#mff0000)" marker-mid="url(#mff0000)" marker-end="url(#mff0000)"/>
<path d="M69.3,372.5 71.9,372.3 74.5,372.2 77.2,372.0 79.8,371.8 82.4,371.5 85.1,371.2 87.7,370.7 90.4,369.8 93.0,368.7 95.6,367.0 98.3,350.8 100.9,316.1 103.6,290.3 106.2,271.4 108.8,272.5 111.5,290.2 114.1,307.7 116.8,320.8 119.4,333.0 122.0,341.7 124.7,348.3 127.3,355.0 129.9,360.5 132.6,364.3 135.2,367.0 137.9,369.3 140.5,370.3 143.1,369.2 145.8,367.2 148.4,364.6 151.1,361.0 153.7,355.8 156.3,349.0 159.0,340.2 161.6,331.1 164.3,323.4 166.9,318.8 169.5,317.7 172.2,318.3 174.8,321.5 177.5,326.2 180.1,332.5 182.7,339.0 185.4,345.4 188.0,348.8 190.6,351.4 193.3,352.7 195.9,352.3 198.6,350.9 201.2,349.5 203.8,348.1 206.5,346.6 209.1,345.7 211.8,345.9 214.4,346.8 217.0,347.7 219.7,348.0 222.3,348.0 225.0,348.0 227.6,348.0 230.2,348.0 232.9,348.0" stroke="#00ff00" marker-start="url(#m00ff00)" marker-mid="url(#m00ff00)" marker-end="url(#m00ff00)"/>
<path d="M71.2,372.4 73.9,372.3 76.5,372.1 79.1,371.8 81.8,371.5 84.4,371.1 87.1,370.5 89.7,369.5 92.3,368.2 95.0,366.1 97.6,352.4 100.3,322.4 102.9,299.3 105.5,280.5 108.2,275.5 110.8,289.0 113.5,304.9 116.1,317.6 118.7,329.7 121.4,339.6 124.0,346.4 126.6,353.3 129.3,359.0 131.9,363.2 134.6,366.1 137.2,368.3 139.8,369.9 142.5,369.1 145.1,367.3 147.8,365.0 150.4,361.7 153.0,357.0 155.7,350.7 158.3,342.5 161.0,333.6 163.6,325.6 166.2,319.8 168.9,318.4 171.5,318.3 174.2,321.1 176.8,325.1 179.4,331.2 182.1,337.5 184.7,344.0 187.3,348.1 190.0,350.7 192.6,352.4 195.3,352.4 197.9,351.2 200.5,349.7 203.2,348.4 205.8,347.0 208.5,345.9 211.1,345.7 213.7,346.5 216.4,347.5 219.0,348.0 221.7,348.0 224.3,348.0 226.9,348.0 229.6,348.0 232.2,348.0" stroke="#0000ff" marker-start="url(#m0000ff)" marker-mid="url(#m0000ff)" marker-end="url(#m0000ff)"/>
<path d="M72.5,372.5 75.2,372.3 77.8,372.1 80.5,371.7 83.1,371.2 85.7,370.6 88.4,369.6 91.0,368.1 93.7,365.9 96.3,358.3 98.9,334.1 101.6,313.6 104.2,296.7 106.9,286.1 109.5,289.8 112.1,300.4 114.8,311.9 117.4,322.9 120.1,334.6 122.7,342.6 125.3,349.6 128.0,356.1 130.6,361.1 133.2,364.4 135.9,366.8 138.5,368.9 141.2,369.3 143.8,367.9 146.4,365.9 149.1,363.1 151.7,359.4 154.4,353.9 157.0,346.9 159.6,338.2 162.3,329.5 164.9,322.6 167.6,319.5 170.2,318.6 172.8,319.9 175.5,323.3 178.1,328.3 180.7,334.5 183.4,341.0 186.0,346.5 188.7,349.4 191.3,351.6 193.9,352.5 196.6,351.8 199.2,350.4 201.9,349.1 204.5,347.6 207.1,346.3 209.8,345.7 212.4,346.0 215.1,347.0 217.7,347.8 220.3,347.9 223.0,347.9 225.6,347.9 228.3,347.9 230.9,347.9 233.5,347.9" stroke="#ff00ff" marker-start="url(#mff00ff)" marker-mid="url(#mff00ff)" marker-end="url(#mff00ff)"/>
<path d="M73.5,372.5 76.2,372.4 78.8,372.1 81.4,371.6 84.1,370.9 86.7,370.0 89.4,368.6 92.0,366.5 94.6,362.0 97.3,345.8 99.9,327.4 102.6,311.6 105.2,297.3 107.8,291.6 110.5,297.0 113.1,306.0 115.8,315.9 118.4,326.9 121.0,337.6 123.7,345.0 126.3,352.0 128.9,357.8 131.6,362.1 134.2,365.0 136.9,367.2 139.5,368.9 142.1,368.4 144.8,366.8 147.4,364.6 150.1,361.6 152.7,357.3 155.3,351.4 158.0,343.8 160.6,335.2 163.3,327.2 165.9,321.2 168.5,319.5 171.2,319.2 173.8,321.5 176.4,325.2 179.1,330.9 181.7,336.9 184.4,343.3 187.0,347.6 189.6,350.3 192.3,352.0 194.9,352.2 197.6,351.2 200.2,349.7 202.8,348.5 205.5,347.1 208.1,346.0 210.8,345.7 213.4,346.4 216.0,347.3 218.7,347.9 221.3,347.9 223.9,347.9 226.6,347.9 229.2,347.9 231.9,347.9" stroke="#00ffff" marker-start="url(#m00ffff)" marker-mid="url(#m00ffff)" marker-end="url(#m00ffff)"/>
<path d="M74.8,372.5 77.5,372.4 80.1,372.0 82.8,371.4 85.4,370.4 88.0,369.1 90.7,367.2 93.3,363.7 96.0,353.4 98.6,337.1 101.2,322.0 103.9,305.9 106.5,294.8 109.2,295.1 111.8,301.7 114.4,310.9 117.1,321.0 119.7,332.7 122.3,341.4 125.0,348.5 127.6,355.0 130.3,359.9 132.9,363.3 135.5,365.7 138.2,367.8 140.8,368.5 143.5,367.2 146.1,365.4 148.7,362.9 151.4,359.4 154.0,354.3 156.7,347.9 159.3,339.6 161.9,331.2 164.6,324.2 167.2,320.6 169.8,319.7 172.5,320.5 175.1,323.7 177.8,328.2 180.4,334.2 183.0,340.3 185.7,345.9 188.3,348.9 191.0,351.2 193.6,352.2 196.2,351.7 198.9,350.4 201.5,349.1 204.2,347.8 206.8,346.4 209.4,345.7 212.1,345.9 214.7,346.8 217.4,347.7 220.0,347.8 222.6,347.8 225.3,347.8 227.9,347.8 230.5,347.8 233.2,347.8" stroke="#ffff00" marker-start="url(#mffff00)" marker-mid="url(#mffff00)" marker-end="url(#mffff00)"/>
<path d="M79.5,372.4 82.1,372.0 84.7,370.8 87.4,369.1 90.0,367.0 92.7,362.9 95.3,353.5 97.9,342.9 100.6,331.1 103.2,315.7 105.9,302.9 108.5,299.7 111.1,302.5 113.8,309.2 116.4,318.2 119.0,329.4 121.7,339.2 124.3,346.5 127.0,353.3 129.6,358.6 132.2,362.3 134.9,364.8 137.5,366.9 140.2,368.1 142.8,367.2 145.4,365.5 148.1,363.3 150.7,360.1 153.4,355.6 156.0,349.6 158.6,341.8 161.3,333.5 163.9,326.3 166.6,321.5 169.2,320.3 171.8,320.5 174.5,323.3 177.1,327.2 179.7,333.0 182.4,338.8 185.0,344.8 187.7,348.2 190.3,350.6 192.9,352.0 195.6,351.8 198.2,350.6 200.9,349.3 203.5,348.1 206.1,346.7 208.8,345.8 211.4,345.8 214.1,346.6 216.7,347.5 219.3,347.8 222.0,347.8 224.6,347.8 227.2,347.8 229.9,347.8 232.5,347.8" stroke="#000000" marker-start="url(#m000000)" marker-mid="url(#m000000)" marker-end="url(#m000000)"/>
<path d="M72.9,372.5 75.5,372.1 78.1,371.6 80.8,370.6 83.4,369.1 86.1,366.7 88.7,363.3 91.3,359.2 94.0,353.4 96.6,345.3 99.3,336.7 101.9,328.0 104.5,317.8 107.2,310.0 109.8,308.8 112.5,310.8 115.1,315.6 117.7,323.0 120.4,333.8 123.0,342.5 125.6,349.7 128.3,355.5 130.9,359.7 133.6,362.6 136.2,364.6 138.8,366.4 141.5,366.5 144.1,365.1 146.8,363.4 149.4,360.8 152.0,357.3 154.7,352.3 157.3,345.9 160.0,338.2 162.6,330.5 165.2,324.6 167.9,322.3 170.5,321.7 173.1,323.1 175.8,326.2 178.4,331.0 181.1,336.4 183.7,342.2 186.3,346.8 189.0,349.3 191.6,351.1 194.3,351.7 196.9,350.9 199.5,349.7 202.2,348.5 204.8,347.3 207.5,346.1 210.1,345.7 212.7,346.1 215.4,347.0 218.0,347.6 220.7,347.7 223.3,347.7 225.9,347.7 228.6,347.7 231.2,347.7 233.8,347.7" stroke="#ff6e32" marker-start="url(#mff6e32)" marker-mid="url(#mff6e32)" marker-end="url(#mff6e32)"/>
<path d="M69.4,372.5 72.0,372.2 74.7,371.6 77.3,370.9 79.9,369.6 82.6,367.5 85.2,364.1 87.9,359.4 90.5,354.2 93.1,347.8 95.8,340.4 98.4,333.5 101.1,327.3 103.7,321.4 106.3,316.9 109.0,314.6 111.6,315.1 114.2,316.9 116.9,321.0 119.5,329.8 122.2,339.1 124.8,347.0 127.4,353.3 130.1,357.7 132.7,360.7 135.4,362.8 138.0,364.6 140.6,365.4 143.3,364.4 145.9,362.8 148.6,360.7 151.2,357.8 153.8,353.5 156.5,348.0 159.1,340.9 161.7,333.6 164.4,327.6 167.0,324.1 169.7,323.3 172.3,323.8 174.9,326.5 177.6,330.3 180.2,335.4 182.9,340.6 185.5,345.6 188.1,348.3 190.8,350.3 193.4,351.3 196.1,350.9 198.7,349.8 201.3,348.7 204.0,347.6 206.6,346.4 209.2,345.7 211.9,345.9 214.5,346.6 217.2,347.3 219.8,347.5 222.4,347.5 225.1,347.5 227.7,347.5 230.4,347.5 233.0,347.5" stroke="#909090" marker-start="url(#m909090)" marker-mid="url(#m909090)" marker-end="url(#m909090)"/>
</g>
<g clip-path="url(#clipaR)" fill="none" stroke-width="0.4">
<path d="M233.6,122.5 236.3,120.9 238.9,119.0 241.5,116.8 244.2,114.2 246.8,111.3 249.5,108.3 252.1,105.3 254.7,101.7 257.4,97.1 260.0,93.1 262.7,88.6 265.3,83.3 267.9,77.8 270.6,72.3 273.2,66.8 275.9,61.1 278.5,56.2 281.1,52.7 283.8,50.6 286.4,49.9 289.1,50.9 291.7,52.8 294.3,55.0 297.0,57.3 299.6,60.0 302.2,62.9 304.9,65.6 307.5,67.8 310.2,69.4 312.8,71.1 315.4,72.6 318.1,73.9 320.7,75.0 323.4,75.7 326.0,75.9 328.6,75.5 331.3,74.7 333.9,73.4 336.6,72.0 339.2,70.6 341.8,69.2 344.5,67.8 347.1,66.1 349.7,64.2 352.4,62.5 355.0,61.0 357.7,59.9 360.3,59.5 362.9,59.7 365.6,60.1 368.2,60.7 370.9,61.5 373.5,62.4 376.1,63.3 378.8,64.2 381.4,65.1 384.1,66.3 386.7,67.7 389.3,69.0 392.0,70.2 394.6,70.9 397.2,71.1 399.9,71.0 402.5,70.9 405.2,70.7 407.8,70.3 410.4,69.8 413.1,69.1 415.7,68.2 418.4,67.1 421.0,65.7" stroke="#ff0000" marker-start="url(#mff0000)" marker-mid="url(#mff0000)" marker-end="url(#mff0000)"/>
<path d="M233.6,118.1 236.3,117.2 238.9,115.7 241.5,114.3 244.2,112.6 246.8,110.0 249.5,107.0 252.1,103.8 254.7,100.1 257.4,95.9 260.0,91.6 262.7,86.5 265.3,80.2 267.9,73.8 270.6,68.6 273.2,64.1 275.9,60.1 278.5,56.9 281.1,54.8 283.8,52.9 286.4,51.5 289.1,51.1 291.7,51.8 294.3,53.4 297.0,55.2 299.6,57.8 302.2,60.9 304.9,64.0 307.5,66.5 310.2,68.4 312.8,70.2 315.4,72.0 318.1,73.4 320.7,74.5 323.4,75.2 326.0,75.2 328.6,74.8 331.3,74.0 333.9,72.9 336.6,71.7 339.2,70.4 341.8,69.2 344.5,68.0 347.1,66.4 349.7,64.7 352.4,63.0 355.0,61.6 357.7,60.6 360.3,60.2 362.9,60.3 365.6,60.6 368.2,61.1 370.9,61.8 373.5,62.6 376.1,63.4 378.8,64.2 381.4,65.0 384.1,66.2 386.7,67.5 389.3,68.8 392.0,69.9 394.6,70.6 397.2,70.8 399.9,70.7 402.5,70.7 405.2,70.5 407.8,70.3 410.4,69.9 413.1,69.3 415.7,68.6 418.4,67.6 421.0,66.3" stroke="#00ff00" marker-start="url(#m00ff00)" marker-mid="url(#m00ff00)" marker-end="url(#m00ff00)"/>
<path d="M233.6,111.6 236.3,114.9 238.9,116.0 241.5,116.5 244.2,113.5 246.8,108.9 249.5,104.7 252.1,99.6 254.7,94.7 257.4,90.0 260.0,87.1 262.7,83.3 265.3,78.4 267.9,73.2 270.6,68.6 273.2,64.2 275.9,59.8 278.5,56.7 281.1,55.8 283.8,55.5 286.4,55.3 289.1,55.5 291.7,56.5 294.3,57.9 297.0,59.4 299.6,61.3 302.2,63.7 304.9,66.0 307.5,67.8 310.2,69.2 312.8,70.6 315.4,71.9 318.1,73.0 320.7,73.7 323.4,74.1 326.0,74.0 328.6,73.6 331.3,72.9 333.9,72.0 336.6,71.1 339.2,70.2 341.8,69.2 344.5,68.2 347.1,66.8 349.7,65.4 352.4,63.9 355.0,62.7 357.7,61.8 360.3,61.4 362.9,61.4 365.6,61.7 368.2,62.2 370.9,62.8 373.5,63.4 376.1,64.1 378.8,64.8 381.4,65.5 384.1,66.5 386.7,67.7 389.3,68.8 392.0,69.7 394.6,70.3 397.2,70.4 399.9,70.4 402.5,70.4 405.2,70.3 407.8,70.1 410.4,69.8 413.1,69.4 415.7,68.8 418.4,68.0 421.0,67.0" stroke="#0000ff" marker-start="url(#m0000ff)" marker-mid="url(#m0000ff)" marker-end="url(#m0000ff)"/>
<path d="M233.6,93.4 236.3,98.9 238.9,96.5 241.5,95.3 244.2,98.3 246.8,92.9 249.5,89.4 252.1,87.5 254.7,85.1 257.4,81.7 260.0,78.1 262.7,74.6 265.3,71.2 267.9,68.2 270.6,65.3 273.2,62.7 275.9,60.8 278.5,59.3 281.1,58.1 283.8,57.7 286.4,58.2 289.1,59.1 291.7,60.2 294.3,61.2 297.0,62.5 299.6,63.9 302.2,65.4 304.9,66.7 307.5,67.9 310.2,68.9 312.8,69.9 315.4,70.8 318.1,71.6 320.7,72.1 323.4,72.3 326.0,72.1 328.6,71.8 331.3,71.2 333.9,70.6 336.6,70.0 339.2,69.3 341.8,68.6 344.5,67.9 347.1,67.0 349.7,65.9 352.4,64.9 355.0,64.1 357.7,63.5 360.3,63.2 362.9,63.2 365.6,63.4 368.2,63.7 370.9,64.1 373.5,64.5 376.1,65.0 378.8,65.5 381.4,66.0 384.1,66.8 386.7,67.6 389.3,68.6 392.0,69.4 394.6,70.0 397.2,70.4 399.9,70.4 402.5,70.4 405.2,70.3 407.8,70.2 410.4,70.0 413.1,69.6 415.7,69.1 418.4,68.5 421.0,67.7" stroke="#ff00ff" marker-start="url(#mff00ff)" marker-mid="url(#mff00ff)" marker-end="url(#mff00ff)"/>
<path d="M233.6,92.5 236.3,88.9 238.9,85.3 241.5,83.3 244.2,82.6 246.8,83.7 249.5,84.2 252.1,81.5 254.7,78.5 257.4,75.7 260.0,73.0 262.7,70.5 265.3,68.2 267.9,65.9 270.6,64.1 273.2,62.9 275.9,62.1 278.5,62.1 281.1,62.7 283.8,63.3 286.4,63.8 289.1,64.3 291.7,64.8 294.3,65.3 297.0,65.8 299.6,66.4 302.2,66.9 304.9,67.4 307.5,68.0 310.2,68.5 312.8,69.2 315.4,69.8 318.1,70.2 320.7,70.4 323.4,70.4 326.0,70.3 328.6,70.1 331.3,69.9 333.9,69.6 336.6,69.3 339.2,69.0 341.8,68.6 344.5,68.2 347.1,67.6 349.7,66.9 352.4,66.2 355.0,65.6 357.7,65.2 360.3,65.0 362.9,65.0 365.6,65.1 368.2,65.3 370.9,65.4 373.5,65.7 376.1,65.9 378.8,66.1 381.4,66.4 384.1,66.9 386.7,67.4 389.3,68.0 392.0,68.6 394.6,69.0 397.2,69.2 399.9,69.2 402.5,69.2 405.2,69.2 407.8,69.1 410.4,69.0 413.1,68.9 415.7,68.6 418.4,68.3 421.0,67.9" stroke="#00ffff" marker-start="url(#m00ffff)" marker-mid="url(#m00ffff)" marker-end="url(#m00ffff)"/>
<path d="M233.6,126.6 236.3,125.0 238.9,120.9 241.5,113.9 244.2,107.4 246.8,105.2 249.5,102.6 252.1,96.5 254.7,90.1 257.4,83.4 260.0,76.7 262.7,70.4 265.3,65.0 267.9,61.0 270.6,57.8 273.2,55.0 275.9,54.8 278.5,55.3 281.1,56.4 283.8,58.4 286.4,60.6 289.1,63.0 291.7,64.3 294.3,65.1 297.0,65.8 299.6,66.4 302.2,67.0 304.9,67.5 307.5,68.0 310.2,68.4 312.8,68.7 315.4,69.0 318.1,69.2 320.7,69.2 323.4,69.2 326.0,69.2 328.6,69.1 331.3,69.0 333.9,69.0 336.6,68.9 339.2,68.8 341.8,68.6 344.5,68.4 347.1,67.9 349.7,67.4 352.4,66.7 355.0,66.2 357.7,65.8 360.3,65.6 362.9,65.6 365.6,65.7 368.2,65.9 370.9,66.1 373.5,66.3 376.1,66.5 378.8,66.8 381.4,67.0 384.1,67.3 386.7,67.6 389.3,68.0 392.0,68.3 394.6,68.5 397.2,68.6 399.9,68.6 402.5,68.6 405.2,68.6 407.8,68.6 410.4,68.5 413.1,68.4 415.7,68.3 418.4,68.2 421.0,67.9" stroke="#ffff00" marker-start="url(#mffff00)" marker-mid="url(#mffff00)" marker-end="url(#mffff00)"/>
</g>
<g clip-path="url(#clipbR)" fill="none" stroke-width="0.4">
<path d="M233.6,250.2 236.3,250.2 238.9,250.2 241.5,250.2 244.2,250.2 246.8,250.2 249.5,250.0 252.1,249.3 254.7,248.2 257.4,246.3 260.0,243.9 262.7,240.8 265.3,237.2 267.9,232.6 270.6,226.5 273.2,218.7 275.9,210.2 278.5,202.8 281.1,196.3 283.8,191.0 286.4,187.3 289.1,185.0 291.7,184.2 294.3,185.0 297.0,186.6 299.6,190.1 302.2,195.2 304.9,200.5 307.5,204.9 310.2,209.5 312.8,213.8 315.4,217.3 318.1,219.4 320.7,221.0 323.4,222.3 326.0,222.8 328.6,222.2 331.3,220.3 333.9,217.8 336.6,215.1 339.2,211.6 341.8,207.5 344.5,203.7 347.1,200.9 349.7,198.2 352.4,195.9 355.0,194.4 357.7,194.3 360.3,195.6 362.9,197.7 365.6,199.8 368.2,201.5 370.9,203.3 373.5,205.1 376.1,206.6 378.8,207.6 381.4,208.5 384.1,209.3 386.7,209.9 389.3,210.3 392.0,210.6 394.6,210.9 397.2,211.1 399.9,211.1 402.5,210.9 405.2,210.5 407.8,210.1 410.4,209.7 413.1,209.1 415.7,208.5 418.4,207.7 421.0,206.9" stroke="#ff0000" marker-start="url(#mff0000)" marker-mid="url(#mff0000)" marker-end="url(#mff0000)"/>
<path d="M241.5,250.2 244.2,249.6 246.8,248.0 249.5,246.6 252.1,245.0 254.7,243.3 257.4,241.2 260.0,238.6 262.7,235.2 265.3,231.7 267.9,227.7 270.6,222.1 273.2,215.2 275.9,208.7 278.5,202.5 281.1,197.5 283.8,193.3 286.4,190.5 289.1,188.4 291.7,187.7 294.3,188.3 297.0,189.6 299.6,192.6 302.2,197.0 304.9,201.6 307.5,205.5 310.2,209.5 312.8,213.4 315.4,216.6 318.1,218.5 320.7,219.9 323.4,221.0 326.0,221.5 328.6,221.0 331.3,219.2 333.9,216.7 336.6,214.2 339.2,211.2 341.8,207.7 344.5,204.4 347.1,201.9 349.7,199.3 352.4,197.1 355.0,195.7 357.7,195.6 360.3,196.7 362.9,198.4 365.6,200.2 368.2,201.8 370.9,203.5 373.5,205.2 376.1,206.6 378.8,207.6 381.4,208.4 384.1,209.1 386.7,209.7 389.3,210.1 392.0,210.4 394.6,210.7 397.2,210.9 399.9,210.9 402.5,210.6 405.2,210.3 407.8,209.9 410.4,209.5 413.1,209.0 415.7,208.4 418.4,207.7 421.0,206.9" stroke="#00ff00" marker-start="url(#m00ff00)" marker-mid="url(#m00ff00)" marker-end="url(#m00ff00)"/>
<path d="M236.3,250.2 238.9,248.5 241.5,246.5 244.2,245.1 246.8,243.8 249.5,242.1 252.1,240.0 254.7,237.5 257.4,235.1 260.0,232.6 262.7,229.4 265.3,225.3 267.9,220.3 270.6,214.8 273.2,209.5 275.9,204.6 278.5,200.1 281.1,196.3 283.8,193.4 286.4,191.4 289.1,190.8 291.7,190.7 294.3,191.6 297.0,193.1 299.6,195.6 302.2,198.9 304.9,202.4 307.5,205.5 310.2,209.0 312.8,212.4 315.4,215.1 318.1,216.7 320.7,217.7 323.4,218.6 326.0,218.9 328.6,218.5 331.3,217.0 333.9,215.0 336.6,213.0 339.2,210.4 341.8,207.5 344.5,204.7 347.1,202.5 349.7,200.4 352.4,198.6 355.0,197.4 357.7,197.3 360.3,198.2 362.9,199.7 365.6,201.2 368.2,202.4 370.9,203.8 373.5,205.1 376.1,206.2 378.8,207.2 381.4,208.0 384.1,208.8 386.7,209.4 389.3,209.9 392.0,210.2 394.6,210.5 397.2,210.7 399.9,210.6 402.5,210.4 405.2,210.1 407.8,209.7 410.4,209.3 413.1,208.8 415.7,208.2 418.4,207.6 421.0,207.0" stroke="#0000ff" marker-start="url(#m0000ff)" marker-mid="url(#m0000ff)" marker-end="url(#m0000ff)"/>
<path d="M233.6,248.9 236.3,247.8 238.9,246.2 241.5,244.2 244.2,242.3 246.8,240.6 249.5,238.9 252.1,236.8 254.7,234.1 257.4,230.0 260.0,226.7 262.7,223.5 265.3,220.2 267.9,216.1 270.6,211.6 273.2,207.5 275.9,203.7 278.5,200.3 281.1,197.5 283.8,195.3 286.4,193.8 289.1,193.7 291.7,193.8 294.3,194.5 297.0,195.7 299.6,197.6 302.2,200.3 304.9,203.1 307.5,205.7 310.2,208.6 312.8,211.4 315.4,213.7 318.1,214.8 320.7,215.5 323.4,216.1 326.0,216.3 328.6,216.0 331.3,214.8 333.9,213.3 336.6,211.8 339.2,209.8 341.8,207.5 344.5,205.4 347.1,203.6 349.7,201.8 352.4,200.2 355.0,199.1 357.7,199.0 360.3,199.8 362.9,200.9 365.6,202.1 368.2,203.2 370.9,204.2 373.5,205.3 376.1,206.3 378.8,207.1 381.4,207.8 384.1,208.5 386.7,209.0 389.3,209.4 392.0,209.8 394.6,210.1 397.2,210.2 399.9,210.2 402.5,210.0 405.2,209.6 407.8,209.2 410.4,208.8 413.1,208.4 415.7,208.0 418.4,207.5 421.0,207.0" stroke="#ff00ff" marker-start="url(#mff00ff)" marker-mid="url(#mff00ff)" marker-end="url(#mff00ff)"/>
<path d="M233.6,245.0 236.3,243.1 238.9,241.2 241.5,239.4 244.2,237.5 246.8,235.6 249.5,233.7 252.1,231.6 254.7,229.2 257.4,226.5 260.0,223.8 262.7,220.9 265.3,217.7 267.9,214.3 270.6,211.0 273.2,207.4 275.9,203.7 278.5,200.8 281.1,198.2 283.8,196.3 286.4,195.8 289.1,195.5 291.7,195.5 294.3,196.3 297.0,197.4 299.6,199.1 302.2,201.3 304.9,203.7 307.5,205.9 310.2,208.3 312.8,210.7 315.4,212.5 318.1,213.5 320.7,214.0 323.4,214.4 326.0,214.6 328.6,214.3 331.3,213.4 333.9,212.2 336.6,210.9 339.2,209.3 341.8,207.5 344.5,205.7 347.1,204.2 349.7,202.7 352.4,201.3 355.0,200.4 357.7,200.3 360.3,200.9 362.9,201.7 365.6,202.6 368.2,203.4 370.9,204.3 373.5,205.2 376.1,206.0 378.8,206.6 381.4,207.2 384.1,207.8 386.7,208.3 389.3,208.5 392.0,208.7 394.6,208.9 397.2,208.9 399.9,208.9 402.5,208.8 405.2,208.5 407.8,208.3 410.4,208.0 413.1,207.7 415.7,207.4 418.4,207.0 421.0,206.6" stroke="#00ffff" marker-start="url(#m00ffff)" marker-mid="url(#m00ffff)" marker-end="url(#m00ffff)"/>
<path d="M233.6,208.8 236.3,213.9 238.9,223.9 241.5,225.4 244.2,226.4 246.8,227.0 249.5,229.3 252.1,226.3 254.7,223.5 257.4,220.9 260.0,218.4 262.7,216.1 265.3,213.3 267.9,209.4 270.6,204.2 273.2,202.0 275.9,200.7 278.5,199.6 281.1,198.7 283.8,198.2 286.4,198.2 289.1,198.8 291.7,199.6 294.3,200.3 297.0,201.3 299.6,202.5 302.2,203.9 304.9,205.3 307.5,206.7 310.2,208.1 312.8,209.6 315.4,210.7 318.1,211.2 320.7,211.6 323.4,211.9 326.0,212.0 328.6,211.8 331.3,211.3 333.9,210.5 336.6,209.7 339.2,208.6 341.8,207.3 344.5,206.0 347.1,204.8 349.7,203.6 352.4,202.4 355.0,201.7 357.7,201.6 360.3,202.0 362.9,202.5 365.6,203.1 368.2,203.7 370.9,204.3 373.5,205.0 376.1,205.6 378.8,206.1 381.4,206.6 384.1,207.1 386.7,207.4 389.3,207.7 392.0,207.8 394.6,208.0 397.2,208.1 399.9,208.1 402.5,208.0 405.2,207.9 407.8,207.7 410.4,207.6 413.1,207.4 415.7,207.2 418.4,206.9 421.0,206.7" stroke="#ffff00" marker-start="url(#mffff00)" marker-mid="url(#mffff00)" marker-end="url(#mffff00)"/>
</g>
<g clip-path="url(#clipcR)" fill="none" stroke-width="0.4">
<path d="M233.6,372.5 236.3,372.5 238.9,372.5 241.5,372.5 244.2,372.5 246.8,372.5 249.5,372.5 252.1,372.5 254.7,372.4 257.4,372.3 260.0,372.0 262.7,371.4 265.3,369.7 267.9,367.4 270.6,363.7 273.2,358.9 275.9,353.9 278.5,348.1 281.1,341.4 283.8,334.5 286.4,329.0 289.1,324.4 291.7,320.9 294.3,318.3 297.0,318.1 299.6,320.3 302.2,325.3 304.9,331.2 307.5,337.7 310.2,343.1 312.8,347.7 315.4,351.8 318.1,355.5 320.7,359.1 323.4,363.0 326.0,364.4 328.6,363.3 331.3,361.4 333.9,358.8 336.6,354.9 339.2,350.2 341.8,345.7 344.5,341.0 347.1,336.4 349.7,333.2 352.4,331.1 355.0,329.9 357.7,330.6 360.3,333.0 362.9,335.8 365.6,339.5 368.2,343.5 370.9,346.3 373.5,348.5 376.1,349.8 378.8,349.8 381.4,349.2 384.1,348.5 386.7,348.1 389.3,347.7 392.0,347.3 394.6,347.1 397.2,347.0 399.9,347.1 402.5,347.1 405.2,347.2 407.8,347.3 410.4,347.2 413.1,347.2 415.7,347.2 418.4,347.1 421.0,346.9" stroke="#ff0000" marker-start="url(#mff0000)" marker-mid="url(#mff0000)" marker-end="url(#mff0000)"/>
<path d="M249.5,372.5 252.1,372.4 254.7,372.1 257.4,371.6 260.0,370.9 262.7,369.7 265.3,368.0 267.9,365.6 270.6,362.7 273.2,359.2 275.9,355.0 278.5,350.0 281.1,344.4 283.8,338.4 286.4,332.3 289.1,326.2 291.7,322.7 294.3,320.6 297.0,320.9 299.6,322.7 302.2,326.6 304.9,331.5 307.5,337.0 310.2,342.3 312.8,346.9 315.4,351.0 318.1,354.4 320.7,357.6 323.4,361.4 326.0,362.8 328.6,361.8 331.3,359.9 333.9,357.6 336.6,354.0 339.2,349.8 341.8,345.7 344.5,341.4 347.1,337.2 349.7,334.4 352.4,332.5 355.0,331.5 357.7,332.1 360.3,334.1 362.9,336.6 365.6,340.0 368.2,343.7 370.9,346.2 373.5,348.1 376.1,349.3 378.8,349.3 381.4,348.8 384.1,348.2 386.7,347.9 389.3,347.5 392.0,347.2 394.6,347.0 397.2,347.0 399.9,347.1 402.5,347.1 405.2,347.2 407.8,347.3 410.4,347.2 413.1,347.2 415.7,347.2 418.4,347.1 421.0,346.9" stroke="#00ff00" marker-start="url(#m00ff00)" marker-mid="url(#m00ff00)" marker-end="url(#m00ff00)"/>
<path d="M246.8,372.4 249.5,372.0 252.1,371.2 254.7,370.2 257.4,369.2 260.0,367.9 262.7,366.3 265.3,364.3 267.9,361.4 270.6,357.7 273.2,353.8 275.9,349.4 278.5,344.9 281.1,340.2 283.8,335.7 286.4,332.0 289.1,329.0 291.7,326.9 294.3,326.8 297.0,327.7 299.6,329.3 302.2,332.1 304.9,335.4 307.5,339.8 310.2,344.0 312.8,347.7 315.4,351.0 318.1,354.1 320.7,356.8 323.4,359.5 326.0,360.4 328.6,359.5 331.3,357.9 333.9,356.0 336.6,352.8 339.2,349.2 341.8,345.7 344.5,342.1 347.1,338.6 349.7,336.3 352.4,334.7 355.0,333.9 357.7,334.3 360.3,335.9 362.9,337.9 365.6,340.7 368.2,344.0 370.9,346.1 373.5,347.8 376.1,348.8 378.8,348.8 381.4,348.4 384.1,347.9 386.7,347.6 389.3,347.3 392.0,347.1 394.6,346.9 397.2,346.9 399.9,346.9 402.5,347.0 405.2,347.1 407.8,347.1 410.4,347.1 413.1,347.1 415.7,347.0 418.4,346.9 421.0,346.8" stroke="#0000ff" marker-start="url(#m0000ff)" marker-mid="url(#m0000ff)" marker-end="url(#m0000ff)"/>
<path d="M241.5,372.5 244.2,372.1 246.8,371.0 249.5,369.7 252.1,368.4 254.7,367.1 257.4,365.6 260.0,363.9 262.7,361.9 265.3,359.5 267.9,356.7 270.6,353.3 273.2,349.0 275.9,344.9 278.5,340.9 281.1,336.9 283.8,333.8 286.4,332.2 289.1,331.5 291.7,331.2 294.3,331.3 297.0,332.0 299.6,333.5 302.2,335.9 304.9,338.6 307.5,341.7 310.2,344.7 312.8,347.5 315.4,350.2 318.1,352.8 320.7,355.0 323.4,357.0 326.0,357.7 328.6,357.1 331.3,355.9 333.9,354.3 336.6,351.7 339.2,348.6 341.8,345.7 344.5,342.7 347.1,339.8 349.7,337.9 352.4,336.7 355.0,336.0 357.7,336.4 360.3,337.6 362.9,339.2 365.6,341.3 368.2,343.7 370.9,345.6 373.5,347.2 376.1,348.2 378.8,348.3 381.4,348.0 384.1,347.6 386.7,347.4 389.3,347.1 392.0,346.9 394.6,346.8 397.2,346.7 399.9,346.8 402.5,346.9 405.2,347.0 407.8,347.0 410.4,347.0 413.1,346.9 415.7,346.9 418.4,346.8 421.0,346.7" stroke="#ff00ff" marker-start="url(#mff00ff)" marker-mid="url(#mff00ff)" marker-end="url(#mff00ff)"/>
<path d="M233.6,372.4 236.3,371.9 238.9,371.2 241.5,369.7 244.2,368.4 246.8,367.1 249.5,365.8 252.1,364.3 254.7,362.7 257.4,360.9 260.0,358.9 262.7,356.7 265.3,354.0 267.9,351.1 270.6,348.4 273.2,345.6 275.9,343.0 278.5,340.6 281.1,338.5 283.8,336.8 286.4,335.5 289.1,334.7 291.7,334.4 294.3,334.7 297.0,335.6 299.6,337.0 302.2,339.0 304.9,341.2 307.5,343.7 310.2,345.9 312.8,347.7 315.4,349.4 318.1,351.3 320.7,352.8 323.4,353.9 326.0,354.2 328.6,353.8 331.3,353.0 333.9,351.9 336.6,350.1 339.2,347.8 341.8,345.7 344.5,343.3 347.1,341.0 349.7,339.6 352.4,338.8 355.0,338.4 357.7,338.7 360.3,339.8 362.9,341.0 365.6,342.5 368.2,344.2 370.9,345.4 373.5,346.5 376.1,347.2 378.8,347.2 381.4,347.2 384.1,347.0 386.7,346.9 389.3,346.8 392.0,346.6 394.6,346.5 397.2,346.5 399.9,346.5 402.5,346.6 405.2,346.7 407.8,346.7 410.4,346.7 413.1,346.7 415.7,346.6 418.4,346.5 421.0,346.4" stroke="#00ffff" marker-start="url(#m00ffff)" marker-mid="url(#m00ffff)" marker-end="url(#m00ffff)"/>
<path d="M233.6,372.3 236.3,371.8 238.9,371.1 241.5,370.3 244.2,369.4 246.8,368.2 249.5,366.6 252.1,364.9 254.7,363.3 257.4,361.6 260.0,359.9 262.7,358.0 265.3,355.1 267.9,351.6 270.6,347.7 273.2,344.6 275.9,342.1 278.5,340.2 281.1,338.7 283.8,337.8 286.4,337.1 289.1,336.8 291.7,336.8 294.3,336.9 297.0,337.7 299.6,338.9 302.2,340.7 304.9,342.5 307.5,344.2 310.2,345.9 312.8,347.4 315.4,348.9 318.1,350.3 320.7,351.4 323.4,352.5 326.0,352.9 328.6,352.5 331.3,351.9 333.9,351.0 336.6,349.5 339.2,347.7 341.8,345.9 344.5,344.0 347.1,342.1 349.7,341.0 352.4,340.4 355.0,340.0 357.7,340.3 360.3,341.3 362.9,342.3 365.6,343.4 368.2,344.5 370.9,345.3 373.5,345.8 376.1,346.1 378.8,346.3 381.4,346.4 384.1,346.4 386.7,346.4 389.3,346.4 392.0,346.3 394.6,346.2 397.2,346.2 399.9,346.2 402.5,346.3 405.2,346.4 407.8,346.5 410.4,346.4 413.1,346.4 415.7,346.3 418.4,346.3 421.0,346.1" stroke="#ffff00" marker-start="url(#mffff00)" marker-mid="url(#mffff00)" marker-end="url(#mffff00)"/>
</g>
<rect x="45.5" y="7.45" width="186.99" height="121.15" fill="none" stroke="#000" stroke-width="1"/>
<rect x="232.5" y="7.45" width="186.50" height="121.15" fill="none" stroke="#000" stroke-width="1"/>
<rect x="45.5" y="128.6" width="186.99" height="121.60" fill="none" stroke="#000" stroke-width="1"/>
<rect x="232.5" y="128.6" width="186.50" height="121.60" fill="none" stroke="#000" stroke-width="1"/>
<rect x="45.5" y="250.2" width="186.99" height="122.30" fill="none" stroke="#000" stroke-width="1"/>
<rect x="232.5" y="250.2" width="186.50" height="122.30" fill="none" stroke="#000" stroke-width="1"/>
<path d="M45.5,250.2H419M45.5,128.6H419" stroke="#000" stroke-width="1.6"/>
<text transform="translate(41.50,133.40) scale(1,1.13)" text-anchor="end" font-size="13.3" letter-spacing="0.3" font-family="Liberation Sans, sans-serif">0</text>
<text transform="translate(41.50,103.11) scale(1,1.13)" text-anchor="end" font-size="13.3" letter-spacing="0.3" font-family="Liberation Sans, sans-serif">0.5</text>
<text transform="translate(41.50,72.83) scale(1,1.13)" text-anchor="end" font-size="13.3" letter-spacing="0.3" font-family="Liberation Sans, sans-serif">1</text>
<text transform="translate(41.50,42.54) scale(1,1.13)" text-anchor="end" font-size="13.3" letter-spacing="0.3" font-family="Liberation Sans, sans-serif">1.5</text>
<text transform="translate(41.50,12.25) scale(1,1.13)" text-anchor="end" font-size="13.3" letter-spacing="0.3" font-family="Liberation Sans, sans-serif">2</text>
<text transform="translate(41.50,255.00) scale(1,1.13)" text-anchor="end" font-size="13.3" letter-spacing="0.3" font-family="Liberation Sans, sans-serif">0</text>
<text transform="translate(41.50,233.29) scale(1,1.13)" text-anchor="end" font-size="13.3" letter-spacing="0.3" font-family="Liberation Sans, sans-serif">0.5</text>
<text transform="translate(41.50,211.57) scale(1,1.13)" text-anchor="end" font-size="13.3" letter-spacing="0.3" font-family="Liberation Sans, sans-serif">1</text>
<text transform="translate(41.50,189.86) scale(1,1.13)" text-anchor="end" font-size="13.3" letter-spacing="0.3" font-family="Liberation Sans, sans-serif">1.5</text>
<text transform="translate(41.50,168.14) scale(1,1.13)" text-anchor="end" font-size="13.3" letter-spacing="0.3" font-family="Liberation Sans, sans-serif">2</text>
<text transform="translate(41.50,146.43) scale(1,1.13)" text-anchor="end" font-size="13.3" letter-spacing="0.3" font-family="Liberation Sans, sans-serif">2.5</text>
<text transform="translate(41.50,377.30) scale(1,1.13)" text-anchor="end" font-size="13.3" letter-spacing="0.3" font-family="Liberation Sans, sans-serif">0</text>
<text transform="translate(41.50,350.45) scale(1,1.13)" text-anchor="end" font-size="13.3" letter-spacing="0.3" font-family="Liberation Sans, sans-serif">1</text>
<text transform="translate(41.50,323.60) scale(1,1.13)" text-anchor="end" font-size="13.3" letter-spacing="0.3" font-family="Liberation Sans, sans-serif">2</text>
<text transform="translate(41.50,296.75) scale(1,1.13)" text-anchor="end" font-size="13.3" letter-spacing="0.3" font-family="Liberation Sans, sans-serif">3</text>
<text transform="translate(41.50,269.90) scale(1,1.13)" text-anchor="end" font-size="13.3" letter-spacing="0.3" font-family="Liberation Sans, sans-serif">4</text>
<text transform="translate(47.90,388.70) scale(1,1.13)" text-anchor="middle" font-size="13.3" font-family="Liberation Sans, sans-serif">0</text>
<text transform="translate(85.60,388.70) scale(1,1.13)" text-anchor="middle" font-size="13.3" font-family="Liberation Sans, sans-serif">2</text>
<text transform="translate(123.30,388.70) scale(1,1.13)" text-anchor="middle" font-size="13.3" font-family="Liberation Sans, sans-serif">4</text>
<text transform="translate(161.00,388.70) scale(1,1.13)" text-anchor="middle" font-size="13.3" font-family="Liberation Sans, sans-serif">6</text>
<text transform="translate(198.70,388.70) scale(1,1.13)" text-anchor="middle" font-size="13.3" font-family="Liberation Sans, sans-serif">8</text>
<text transform="translate(139.80,407.60) scale(1,1.13)" text-anchor="middle" font-size="13.3" font-family="Liberation Sans, sans-serif">r</text>
<text transform="translate(234.90,388.70) scale(1,1.13)" text-anchor="middle" font-size="13.3" font-family="Liberation Sans, sans-serif">0</text>
<text transform="translate(272.60,388.70) scale(1,1.13)" text-anchor="middle" font-size="13.3" font-family="Liberation Sans, sans-serif">2</text>
<text transform="translate(310.30,388.70) scale(1,1.13)" text-anchor="middle" font-size="13.3" font-family="Liberation Sans, sans-serif">4</text>
<text transform="translate(348.00,388.70) scale(1,1.13)" text-anchor="middle" font-size="13.3" font-family="Liberation Sans, sans-serif">6</text>
<text transform="translate(385.70,388.70) scale(1,1.13)" text-anchor="middle" font-size="13.3" font-family="Liberation Sans, sans-serif">8</text>
<text transform="translate(326.80,407.60) scale(1,1.13)" text-anchor="middle" font-size="13.3" font-family="Liberation Sans, sans-serif">r</text>
<text x="0.8" y="10.7" font-size="14" letter-spacing="1.3" font-family="Liberation Sans, sans-serif">a)</text>
<text x="0.8" y="139.2" font-size="14" letter-spacing="1.3" font-family="Liberation Sans, sans-serif">b)</text>
<text x="0.8" y="261.4" font-size="14" letter-spacing="1.3" font-family="Liberation Sans, sans-serif">c)</text>
<text transform="translate(9.9,62.7) rotate(-90) scale(1.15,1)" text-anchor="middle" font-size="13" font-family="Liberation Sans, sans-serif">G<tspan font-size="10.4" dy="4.3">tg</tspan><tspan dy="-4.3">(r,<tspan style="font-family:'Liberation Serif',serif">&#916;</tspan>)</tspan></text>
<text transform="translate(9.9,188.0) rotate(-90) scale(1.15,1)" text-anchor="middle" font-size="13" font-family="Liberation Sans, sans-serif">G<tspan font-size="10.4" dy="4.3">tg</tspan><tspan dy="-4.3">(r,<tspan style="font-family:'Liberation Serif',serif">&#916;</tspan>)</tspan></text>
<text transform="translate(9.9,308.4) rotate(-90) scale(1.15,1)" text-anchor="middle" font-size="13" font-family="Liberation Sans, sans-serif">G<tspan font-size="10.4" dy="4.3">tg</tspan><tspan dy="-4.3">(r,<tspan style="font-family:'Liberation Serif',serif">&#916;</tspan>)</tspan></text>
<text transform="translate(106.20,24.60) scale(1,1.13)" text-anchor="start" font-size="13.3" letter-spacing="0.65" font-family="Liberation Sans, sans-serif"><tspan style="font-family:'Liberation Serif',serif">&#916;</tspan>=0.0</text>
<line x1="152.0" y1="19.9" x2="160.3" y2="19.9" stroke="#ff0000" stroke-width="0.6"/><circle cx="156.3" cy="19.9" r="1.25" fill="none" stroke="#ff0000" stroke-width="0.75"/>
<text transform="translate(106.20,39.20) scale(1,1.13)" text-anchor="start" font-size="13.3" letter-spacing="0.65" font-family="Liberation Sans, sans-serif"><tspan style="font-family:'Liberation Serif',serif">&#916;</tspan>=0.2</text>
<line x1="152.0" y1="34.5" x2="160.3" y2="34.5" stroke="#00ff00" stroke-width="0.6"/><circle cx="156.3" cy="34.5" r="1.25" fill="none" stroke="#00ff00" stroke-width="0.75"/>
<text transform="translate(175.40,24.60) scale(1,1.13)" text-anchor="start" font-size="13.3" letter-spacing="0.65" font-family="Liberation Sans, sans-serif"><tspan style="font-family:'Liberation Serif',serif">&#916;</tspan>=1.0</text>
<line x1="218.29999999999998" y1="19.9" x2="226.6" y2="19.9" stroke="#ffff00" stroke-width="0.6"/><circle cx="222.6" cy="19.9" r="1.25" fill="none" stroke="#ffff00" stroke-width="0.75"/>
<text transform="translate(175.40,39.20) scale(1,1.13)" text-anchor="start" font-size="13.3" letter-spacing="0.65" font-family="Liberation Sans, sans-serif"><tspan style="font-family:'Liberation Serif',serif">&#916;</tspan>=2.5</text>
<line x1="218.29999999999998" y1="34.5" x2="226.6" y2="34.5" stroke="#000000" stroke-width="0.6"/><circle cx="222.6" cy="34.5" r="1.25" fill="none" stroke="#000000" stroke-width="0.75"/>
<text transform="translate(94.30,94.20) scale(1,1.13)" text-anchor="start" font-size="13.3" letter-spacing="0.65" font-family="Liberation Sans, sans-serif"><tspan style="font-family:'Liberation Serif',serif">&#916;</tspan>=0.4</text>
<line x1="139.89999999999998" y1="89.5" x2="148.2" y2="89.5" stroke="#0000ff" stroke-width="0.6"/><circle cx="144.2" cy="89.5" r="1.25" fill="none" stroke="#0000ff" stroke-width="0.75"/>
<text transform="translate(94.30,108.20) scale(1,1.13)" text-anchor="start" font-size="13.3" letter-spacing="0.65" font-family="Liberation Sans, sans-serif"><tspan style="font-family:'Liberation Serif',serif">&#916;</tspan>=0.6</text>
<line x1="139.89999999999998" y1="103.5" x2="148.2" y2="103.5" stroke="#ff00ff" stroke-width="0.6"/><circle cx="144.2" cy="103.5" r="1.25" fill="none" stroke="#ff00ff" stroke-width="0.75"/>
<text transform="translate(94.30,122.20) scale(1,1.13)" text-anchor="start" font-size="13.3" letter-spacing="0.65" font-family="Liberation Sans, sans-serif"><tspan style="font-family:'Liberation Serif',serif">&#916;</tspan>=0.8</text>
<line x1="139.89999999999998" y1="117.5" x2="148.2" y2="117.5" stroke="#00ffff" stroke-width="0.6"/><circle cx="144.2" cy="117.5" r="1.25" fill="none" stroke="#00ffff" stroke-width="0.75"/>
<text transform="translate(171.60,94.20) scale(1,1.13)" text-anchor="start" font-size="13.3" letter-spacing="0.65" font-family="Liberation Sans, sans-serif"><tspan style="font-family:'Liberation Serif',serif">&#916;</tspan>=4.5</text>
<line x1="217.1" y1="89.5" x2="225.4" y2="89.5" stroke="#ff6e32" stroke-width="0.6"/><circle cx="221.4" cy="89.5" r="1.25" fill="none" stroke="#ff6e32" stroke-width="0.75"/>
<text transform="translate(171.60,108.20) scale(1,1.13)" text-anchor="start" font-size="13.3" letter-spacing="0.65" font-family="Liberation Sans, sans-serif"><tspan style="font-family:'Liberation Serif',serif">&#916;</tspan>=6.5</text>
<line x1="217.1" y1="103.5" x2="225.4" y2="103.5" stroke="#909090" stroke-width="0.6"/><circle cx="221.4" cy="103.5" r="1.25" fill="none" stroke="#909090" stroke-width="0.75"/>
<text transform="translate(326.30,91.60) scale(1,1.13)" text-anchor="end" font-size="13.3" letter-spacing="0.65" font-family="Liberation Sans, sans-serif"><tspan style="font-family:'Liberation Serif',serif">&#916;</tspan>=8.5</text>
<line x1="335.0" y1="86.9" x2="343.3" y2="86.9" stroke="#ff0000" stroke-width="0.6"/><circle cx="339.3" cy="86.9" r="1.25" fill="none" stroke="#ff0000" stroke-width="0.75"/>
<text transform="translate(326.30,105.90) scale(1,1.13)" text-anchor="end" font-size="13.3" letter-spacing="0.65" font-family="Liberation Sans, sans-serif"><tspan style="font-family:'Liberation Serif',serif">&#916;</tspan>=15</text>
<line x1="335.0" y1="101.2" x2="343.3" y2="101.2" stroke="#00ff00" stroke-width="0.6"/><circle cx="339.3" cy="101.2" r="1.25" fill="none" stroke="#00ff00" stroke-width="0.75"/>
<text transform="translate(326.30,120.00) scale(1,1.13)" text-anchor="end" font-size="13.3" letter-spacing="0.65" font-family="Liberation Sans, sans-serif"><tspan style="font-family:'Liberation Serif',serif">&#916;</tspan>=35</text>
<line x1="335.0" y1="115.3" x2="343.3" y2="115.3" stroke="#0000ff" stroke-width="0.6"/><circle cx="339.3" cy="115.3" r="1.25" fill="none" stroke="#0000ff" stroke-width="0.75"/>
<text transform="translate(396.00,91.60) scale(1,1.13)" text-anchor="end" font-size="13.3" letter-spacing="0.65" font-family="Liberation Sans, sans-serif"><tspan style="font-family:'Liberation Serif',serif">&#916;</tspan>=55</text>
<line x1="402.2" y1="86.9" x2="410.5" y2="86.9" stroke="#ff00ff" stroke-width="0.6"/><circle cx="406.5" cy="86.9" r="1.25" fill="none" stroke="#ff00ff" stroke-width="0.75"/>
<text transform="translate(396.00,105.90) scale(1,1.13)" text-anchor="end" font-size="13.3" letter-spacing="0.65" font-family="Liberation Sans, sans-serif"><tspan style="font-family:'Liberation Serif',serif">&#916;</tspan>=75</text>
<line x1="402.2" y1="101.2" x2="410.5" y2="101.2" stroke="#00ffff" stroke-width="0.6"/><circle cx="406.5" cy="101.2" r="1.25" fill="none" stroke="#00ffff" stroke-width="0.75"/>
<text transform="translate(396.00,120.00) scale(1,1.13)" text-anchor="end" font-size="13.3" letter-spacing="0.65" font-family="Liberation Sans, sans-serif"><tspan style="font-family:'Liberation Serif',serif">&#916;</tspan>=95</text>
<line x1="402.2" y1="115.3" x2="410.5" y2="115.3" stroke="#ffff00" stroke-width="0.6"/><circle cx="406.5" cy="115.3" r="1.25" fill="none" stroke="#ffff00" stroke-width="0.75"/>
</svg></body></html>
